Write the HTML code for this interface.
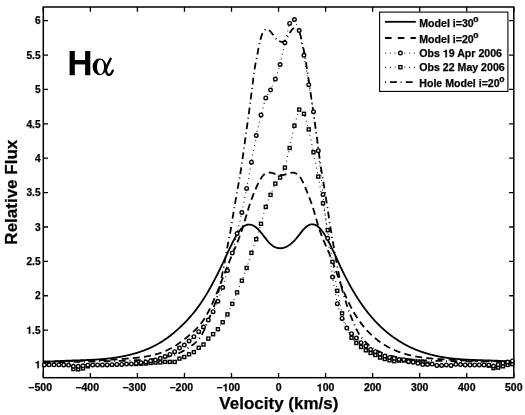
<!DOCTYPE html>
<html><head><meta charset="utf-8"><style>
html,body{margin:0;padding:0;background:#fff;}
svg{display:block;will-change:transform;}
text{font-family:"Liberation Sans",sans-serif;font-weight:bold;fill:#000;stroke:#000;stroke-width:0.25px;}
.tk{font-size:10.5px;}
.tky{font-size:10.2px;}
.al{font-size:17px;}
.ha{font-size:34.5px;}
.al2{font-family:"Liberation Serif",serif;font-weight:normal;font-size:37px;}
.lg{font-size:10.6px;}
.sup{font-size:8.6px;}
.one{fill:transparent;stroke:none;}
</style></head><body>
<svg width="525" height="415" viewBox="0 0 525 415">
<rect width="525" height="415" fill="#fff"/>
<clipPath id="cp"><rect x="43.3" y="7.0" width="470.49999999999994" height="370.7"/></clipPath><g clip-path="url(#cp)"><path d="M43.30,362.31 L43.69,362.26 L44.08,362.22 L44.48,362.18 L44.87,362.14 L45.26,362.10 L45.65,362.06 L46.05,362.02 L46.44,361.98 L46.83,361.94 L47.22,361.91 L47.62,361.87 L48.01,361.83 L48.40,361.80 L48.79,361.76 L49.19,361.73 L49.58,361.70 L49.97,361.66 L50.36,361.63 L50.76,361.60 L51.15,361.57 L51.54,361.54 L51.93,361.51 L52.33,361.48 L52.72,361.45 L53.11,361.42 L53.50,361.39 L53.90,361.37 L54.29,361.34 L54.68,361.31 L55.07,361.29 L55.46,361.26 L55.86,361.24 L56.25,361.21 L56.64,361.19 L57.03,361.17 L57.43,361.14 L57.82,361.12 L58.21,361.10 L58.60,361.08 L59.00,361.06 L59.39,361.04 L59.78,361.02 L60.17,361.00 L60.57,360.98 L60.96,360.96 L61.35,360.94 L61.74,360.92 L62.14,360.90 L62.53,360.88 L62.92,360.86 L63.31,360.85 L63.71,360.83 L64.10,360.81 L64.49,360.80 L64.88,360.78 L65.27,360.76 L65.67,360.75 L66.06,360.73 L66.45,360.72 L66.84,360.70 L67.24,360.69 L67.63,360.67 L68.02,360.66 L68.41,360.64 L68.81,360.63 L69.20,360.62 L69.59,360.60 L69.98,360.59 L70.38,360.57 L70.77,360.56 L71.16,360.55 L71.55,360.53 L71.95,360.52 L72.34,360.51 L72.73,360.50 L73.12,360.48 L73.52,360.47 L73.91,360.46 L74.30,360.44 L74.69,360.43 L75.09,360.42 L75.48,360.41 L75.87,360.39 L76.26,360.38 L76.65,360.37 L77.05,360.36 L77.44,360.34 L77.83,360.33 L78.22,360.32 L78.62,360.31 L79.01,360.29 L79.40,360.28 L79.79,360.27 L80.19,360.25 L80.58,360.24 L80.97,360.23 L81.36,360.21 L81.76,360.20 L82.15,360.19 L82.54,360.17 L82.93,360.16 L83.33,360.14 L83.72,360.13 L84.11,360.12 L84.50,360.10 L84.90,360.09 L85.29,360.07 L85.68,360.06 L86.07,360.04 L86.47,360.03 L86.86,360.01 L87.25,359.99 L87.64,359.98 L88.03,359.96 L88.43,359.94 L88.82,359.93 L89.21,359.91 L89.60,359.89 L90.00,359.87 L90.39,359.85 L90.78,359.84 L91.17,359.82 L91.57,359.80 L91.96,359.78 L92.35,359.76 L92.74,359.74 L93.14,359.72 L93.53,359.69 L93.92,359.67 L94.31,359.65 L94.71,359.63 L95.10,359.60 L95.49,359.58 L95.88,359.56 L96.28,359.53 L96.67,359.51 L97.06,359.48 L97.45,359.46 L97.85,359.43 L98.24,359.40 L98.63,359.38 L99.02,359.35 L99.41,359.32 L99.81,359.29 L100.20,359.26 L100.59,359.23 L100.98,359.20 L101.38,359.17 L101.77,359.14 L102.16,359.11 L102.55,359.07 L102.95,359.04 L103.34,359.01 L103.73,358.97 L104.12,358.94 L104.52,358.90 L104.91,358.86 L105.30,358.83 L105.69,358.79 L106.09,358.75 L106.48,358.71 L106.87,358.67 L107.26,358.63 L107.66,358.59 L108.05,358.55 L108.44,358.50 L108.83,358.46 L109.22,358.42 L109.62,358.37 L110.01,358.32 L110.40,358.28 L110.79,358.23 L111.19,358.18 L111.58,358.13 L111.97,358.08 L112.36,358.03 L112.76,357.98 L113.15,357.93 L113.54,357.88 L113.93,357.82 L114.33,357.77 L114.72,357.71 L115.11,357.65 L115.50,357.60 L115.90,357.54 L116.29,357.48 L116.68,357.42 L117.07,357.36 L117.47,357.29 L117.86,357.23 L118.25,357.17 L118.64,357.10 L119.04,357.04 L119.43,356.97 L119.82,356.90 L120.21,356.83 L120.60,356.76 L121.00,356.69 L121.39,356.62 L121.78,356.54 L122.17,356.47 L122.57,356.39 L122.96,356.32 L123.35,356.24 L123.74,356.16 L124.14,356.08 L124.53,356.00 L124.92,355.92 L125.31,355.84 L125.71,355.75 L126.10,355.67 L126.49,355.58 L126.88,355.49 L127.28,355.41 L127.67,355.32 L128.06,355.22 L128.45,355.13 L128.85,355.04 L129.24,354.94 L129.63,354.85 L130.02,354.75 L130.42,354.65 L130.81,354.55 L131.20,354.45 L131.59,354.35 L131.98,354.25 L132.38,354.14 L132.77,354.04 L133.16,353.93 L133.55,353.82 L133.95,353.71 L134.34,353.60 L134.73,353.49 L135.12,353.37 L135.52,353.26 L135.91,353.14 L136.30,353.02 L136.69,352.90 L137.09,352.78 L137.48,352.66 L137.87,352.54 L138.26,352.41 L138.66,352.29 L139.05,352.16 L139.44,352.03 L139.83,351.90 L140.23,351.77 L140.62,351.63 L141.01,351.50 L141.40,351.36 L141.79,351.22 L142.19,351.08 L142.58,350.94 L142.97,350.80 L143.36,350.65 L143.76,350.51 L144.15,350.36 L144.54,350.21 L144.93,350.06 L145.33,349.91 L145.72,349.75 L146.11,349.59 L146.50,349.44 L146.90,349.28 L147.29,349.11 L147.68,348.95 L148.07,348.78 L148.47,348.62 L148.86,348.45 L149.25,348.27 L149.64,348.10 L150.04,347.93 L150.43,347.75 L150.82,347.57 L151.21,347.39 L151.61,347.20 L152.00,347.02 L152.39,346.83 L152.78,346.64 L153.17,346.45 L153.57,346.25 L153.96,346.06 L154.35,345.86 L154.74,345.66 L155.14,345.45 L155.53,345.25 L155.92,345.04 L156.31,344.83 L156.71,344.62 L157.10,344.40 L157.49,344.19 L157.88,343.97 L158.28,343.75 L158.67,343.52 L159.06,343.29 L159.45,343.07 L159.85,342.83 L160.24,342.60 L160.63,342.36 L161.02,342.12 L161.42,341.88 L161.81,341.64 L162.20,341.39 L162.59,341.14 L162.99,340.89 L163.38,340.63 L163.77,340.37 L164.16,340.11 L164.55,339.85 L164.95,339.58 L165.34,339.31 L165.73,339.04 L166.12,338.76 L166.52,338.49 L166.91,338.21 L167.30,337.92 L167.69,337.64 L168.09,337.35 L168.48,337.06 L168.87,336.76 L169.26,336.46 L169.66,336.16 L170.05,335.86 L170.44,335.56 L170.83,335.25 L171.23,334.94 L171.62,334.62 L172.01,334.31 L172.40,333.99 L172.80,333.67 L173.19,333.34 L173.58,333.02 L173.97,332.69 L174.37,332.36 L174.76,332.02 L175.15,331.68 L175.54,331.35 L175.93,331.00 L176.33,330.66 L176.72,330.31 L177.11,329.97 L177.50,329.61 L177.90,329.26 L178.29,328.91 L178.68,328.55 L179.07,328.19 L179.47,327.82 L179.86,327.46 L180.25,327.09 L180.64,326.72 L181.04,326.35 L181.43,325.98 L181.82,325.60 L182.21,325.22 L182.61,324.84 L183.00,324.46 L183.39,324.07 L183.78,323.68 L184.18,323.28 L184.57,322.89 L184.96,322.49 L185.35,322.09 L185.74,321.68 L186.14,321.27 L186.53,320.86 L186.92,320.45 L187.31,320.03 L187.71,319.61 L188.10,319.18 L188.49,318.75 L188.88,318.32 L189.28,317.89 L189.67,317.45 L190.06,317.00 L190.45,316.56 L190.85,316.10 L191.24,315.65 L191.63,315.19 L192.02,314.73 L192.42,314.26 L192.81,313.79 L193.20,313.31 L193.59,312.83 L193.99,312.35 L194.38,311.86 L194.77,311.37 L195.16,310.87 L195.56,310.37 L195.95,309.86 L196.34,309.35 L196.73,308.83 L197.12,308.31 L197.52,307.78 L197.91,307.25 L198.30,306.71 L198.69,306.17 L199.09,305.62 L199.48,305.07 L199.87,304.51 L200.26,303.95 L200.66,303.38 L201.05,302.81 L201.44,302.23 L201.83,301.65 L202.23,301.05 L202.62,300.46 L203.01,299.86 L203.40,299.25 L203.80,298.64 L204.19,298.02 L204.58,297.39 L204.97,296.76 L205.37,296.13 L205.76,295.49 L206.15,294.84 L206.54,294.19 L206.94,293.53 L207.33,292.87 L207.72,292.21 L208.11,291.54 L208.50,290.86 L208.90,290.18 L209.29,289.49 L209.68,288.80 L210.07,288.10 L210.47,287.40 L210.86,286.70 L211.25,285.99 L211.64,285.27 L212.04,284.55 L212.43,283.83 L212.82,283.10 L213.21,282.36 L213.61,281.63 L214.00,280.89 L214.39,280.14 L214.78,279.39 L215.18,278.63 L215.57,277.87 L215.96,277.11 L216.35,276.34 L216.75,275.57 L217.14,274.80 L217.53,274.02 L217.92,273.23 L218.32,272.45 L218.71,271.66 L219.10,270.86 L219.49,270.06 L219.88,269.26 L220.28,268.46 L220.67,267.65 L221.06,266.83 L221.45,266.02 L221.85,265.20 L222.24,264.38 L222.63,263.55 L223.02,262.72 L223.42,261.89 L223.81,261.05 L224.20,260.21 L224.59,259.37 L224.99,258.53 L225.38,257.68 L225.77,256.83 L226.16,255.98 L226.56,255.13 L226.95,254.28 L227.34,253.43 L227.73,252.59 L228.13,251.74 L228.52,250.90 L228.91,250.06 L229.30,249.23 L229.69,248.39 L230.09,247.57 L230.48,246.75 L230.87,245.93 L231.26,245.13 L231.66,244.33 L232.05,243.54 L232.44,242.75 L232.83,241.98 L233.23,241.21 L233.62,240.46 L234.01,239.72 L234.40,238.98 L234.80,238.26 L235.19,237.56 L235.58,236.86 L235.97,236.18 L236.37,235.52 L236.76,234.87 L237.15,234.23 L237.54,233.61 L237.94,233.01 L238.33,232.42 L238.72,231.86 L239.11,231.31 L239.51,230.78 L239.90,230.27 L240.29,229.78 L240.68,229.31 L241.07,228.87 L241.47,228.44 L241.86,228.04 L242.25,227.66 L242.64,227.30 L243.04,226.97 L243.43,226.66 L243.82,226.37 L244.21,226.10 L244.61,225.86 L245.00,225.64 L245.39,225.44 L245.78,225.26 L246.18,225.10 L246.57,224.96 L246.96,224.85 L247.35,224.75 L247.75,224.68 L248.14,224.62 L248.53,224.58 L248.92,224.57 L249.32,224.57 L249.71,224.59 L250.10,224.64 L250.49,224.70 L250.89,224.77 L251.28,224.87 L251.67,224.99 L252.06,225.12 L252.45,225.27 L252.85,225.44 L253.24,225.62 L253.63,225.82 L254.02,226.04 L254.42,226.28 L254.81,226.53 L255.20,226.80 L255.59,227.08 L255.99,227.38 L256.38,227.70 L256.77,228.03 L257.16,228.37 L257.56,228.73 L257.95,229.11 L258.34,229.50 L258.73,229.90 L259.13,230.32 L259.52,230.75 L259.91,231.19 L260.30,231.65 L260.70,232.12 L261.09,232.59 L261.48,233.08 L261.87,233.57 L262.26,234.07 L262.66,234.58 L263.05,235.09 L263.44,235.60 L263.83,236.11 L264.23,236.63 L264.62,237.14 L265.01,237.65 L265.40,238.16 L265.80,238.67 L266.19,239.17 L266.58,239.66 L266.97,240.15 L267.37,240.63 L267.76,241.10 L268.15,241.56 L268.54,242.00 L268.94,242.43 L269.33,242.85 L269.72,243.26 L270.11,243.64 L270.51,244.02 L270.90,244.37 L271.29,244.71 L271.68,245.03 L272.08,245.33 L272.47,245.62 L272.86,245.89 L273.25,246.15 L273.64,246.39 L274.04,246.62 L274.43,246.83 L274.82,247.02 L275.21,247.20 L275.61,247.37 L276.00,247.52 L276.39,247.66 L276.78,247.78 L277.18,247.89 L277.57,247.98 L277.96,248.06 L278.35,248.13 L278.75,248.18 L279.14,248.22 L279.53,248.25 L279.92,248.26 L280.32,248.27 L280.71,248.25 L281.10,248.23 L281.49,248.19 L281.89,248.15 L282.28,248.09 L282.67,248.01 L283.06,247.93 L283.46,247.83 L283.85,247.72 L284.24,247.60 L284.63,247.47 L285.02,247.33 L285.42,247.17 L285.81,247.00 L286.20,246.82 L286.59,246.63 L286.99,246.43 L287.38,246.22 L287.77,245.99 L288.16,245.76 L288.56,245.51 L288.95,245.25 L289.34,244.98 L289.73,244.70 L290.13,244.41 L290.52,244.11 L290.91,243.80 L291.30,243.47 L291.70,243.14 L292.09,242.79 L292.48,242.44 L292.87,242.07 L293.27,241.70 L293.66,241.31 L294.05,240.92 L294.44,240.51 L294.84,240.09 L295.23,239.67 L295.62,239.23 L296.01,238.78 L296.40,238.33 L296.80,237.86 L297.19,237.39 L297.58,236.90 L297.97,236.41 L298.37,235.92 L298.76,235.42 L299.15,234.91 L299.54,234.41 L299.94,233.90 L300.33,233.39 L300.72,232.89 L301.11,232.39 L301.51,231.90 L301.90,231.41 L302.29,230.92 L302.68,230.45 L303.08,229.99 L303.47,229.53 L303.86,229.09 L304.25,228.67 L304.65,228.26 L305.04,227.86 L305.43,227.49 L305.82,227.13 L306.21,226.79 L306.61,226.48 L307.00,226.18 L307.39,225.91 L307.78,225.66 L308.18,225.43 L308.57,225.22 L308.96,225.04 L309.35,224.87 L309.75,224.73 L310.14,224.60 L310.53,224.50 L310.92,224.42 L311.32,224.37 L311.71,224.33 L312.10,224.31 L312.49,224.32 L312.89,224.35 L313.28,224.39 L313.67,224.46 L314.06,224.55 L314.46,224.67 L314.85,224.80 L315.24,224.95 L315.63,225.13 L316.03,225.32 L316.42,225.54 L316.81,225.78 L317.20,226.03 L317.59,226.31 L317.99,226.61 L318.38,226.93 L318.77,227.27 L319.16,227.64 L319.56,228.02 L319.95,228.42 L320.34,228.85 L320.73,229.29 L321.13,229.76 L321.52,230.24 L321.91,230.74 L322.30,231.26 L322.70,231.79 L323.09,232.35 L323.48,232.92 L323.87,233.50 L324.27,234.11 L324.66,234.72 L325.05,235.36 L325.44,236.00 L325.84,236.66 L326.23,237.33 L326.62,238.02 L327.01,238.72 L327.41,239.43 L327.80,240.15 L328.19,240.88 L328.58,241.63 L328.97,242.38 L329.37,243.14 L329.76,243.91 L330.15,244.69 L330.54,245.48 L330.94,246.28 L331.33,247.08 L331.72,247.89 L332.11,248.71 L332.51,249.53 L332.90,250.36 L333.29,251.19 L333.68,252.02 L334.08,252.86 L334.47,253.71 L334.86,254.55 L335.25,255.40 L335.65,256.25 L336.04,257.10 L336.43,257.96 L336.82,258.81 L337.22,259.66 L337.61,260.52 L338.00,261.37 L338.39,262.22 L338.78,263.07 L339.18,263.92 L339.57,264.76 L339.96,265.60 L340.35,266.44 L340.75,267.27 L341.14,268.10 L341.53,268.92 L341.92,269.74 L342.32,270.55 L342.71,271.36 L343.10,272.16 L343.49,272.96 L343.89,273.75 L344.28,274.54 L344.67,275.32 L345.06,276.09 L345.46,276.86 L345.85,277.63 L346.24,278.39 L346.63,279.14 L347.03,279.89 L347.42,280.64 L347.81,281.38 L348.20,282.11 L348.60,282.84 L348.99,283.57 L349.38,284.28 L349.77,285.00 L350.16,285.71 L350.56,286.41 L350.95,287.11 L351.34,287.80 L351.73,288.49 L352.13,289.18 L352.52,289.85 L352.91,290.53 L353.30,291.20 L353.70,291.86 L354.09,292.52 L354.48,293.17 L354.87,293.82 L355.27,294.47 L355.66,295.11 L356.05,295.74 L356.44,296.37 L356.84,296.99 L357.23,297.61 L357.62,298.23 L358.01,298.84 L358.41,299.44 L358.80,300.04 L359.19,300.64 L359.58,301.23 L359.98,301.81 L360.37,302.40 L360.76,302.97 L361.15,303.54 L361.54,304.11 L361.94,304.67 L362.33,305.23 L362.72,305.78 L363.11,306.33 L363.51,306.88 L363.90,307.42 L364.29,307.95 L364.68,308.48 L365.08,309.01 L365.47,309.53 L365.86,310.05 L366.25,310.56 L366.65,311.07 L367.04,311.58 L367.43,312.08 L367.82,312.57 L368.22,313.07 L368.61,313.56 L369.00,314.04 L369.39,314.52 L369.79,315.00 L370.18,315.47 L370.57,315.93 L370.96,316.40 L371.36,316.86 L371.75,317.31 L372.14,317.77 L372.53,318.22 L372.92,318.66 L373.32,319.10 L373.71,319.54 L374.10,319.97 L374.49,320.40 L374.89,320.83 L375.28,321.25 L375.67,321.67 L376.06,322.08 L376.46,322.49 L376.85,322.90 L377.24,323.30 L377.63,323.70 L378.03,324.10 L378.42,324.49 L378.81,324.88 L379.20,325.27 L379.60,325.65 L379.99,326.03 L380.38,326.41 L380.77,326.79 L381.17,327.16 L381.56,327.52 L381.95,327.89 L382.34,328.25 L382.73,328.60 L383.13,328.96 L383.52,329.31 L383.91,329.66 L384.30,330.00 L384.70,330.35 L385.09,330.69 L385.48,331.02 L385.87,331.36 L386.27,331.69 L386.66,332.01 L387.05,332.34 L387.44,332.66 L387.84,332.98 L388.23,333.30 L388.62,333.61 L389.01,333.92 L389.41,334.23 L389.80,334.54 L390.19,334.84 L390.58,335.14 L390.98,335.44 L391.37,335.74 L391.76,336.03 L392.15,336.32 L392.55,336.61 L392.94,336.89 L393.33,337.18 L393.72,337.46 L394.11,337.73 L394.51,338.01 L394.90,338.28 L395.29,338.55 L395.68,338.82 L396.08,339.09 L396.47,339.35 L396.86,339.61 L397.25,339.87 L397.65,340.13 L398.04,340.38 L398.43,340.63 L398.82,340.88 L399.22,341.13 L399.61,341.37 L400.00,341.61 L400.39,341.86 L400.79,342.09 L401.18,342.33 L401.57,342.56 L401.96,342.79 L402.36,343.02 L402.75,343.25 L403.14,343.47 L403.53,343.70 L403.93,343.92 L404.32,344.13 L404.71,344.35 L405.10,344.56 L405.49,344.78 L405.89,344.99 L406.28,345.19 L406.67,345.40 L407.06,345.60 L407.46,345.80 L407.85,346.00 L408.24,346.20 L408.63,346.40 L409.03,346.59 L409.42,346.78 L409.81,346.97 L410.20,347.16 L410.60,347.34 L410.99,347.53 L411.38,347.71 L411.77,347.89 L412.17,348.07 L412.56,348.24 L412.95,348.42 L413.34,348.59 L413.74,348.76 L414.13,348.93 L414.52,349.10 L414.91,349.26 L415.31,349.42 L415.70,349.59 L416.09,349.75 L416.48,349.90 L416.87,350.06 L417.27,350.22 L417.66,350.37 L418.05,350.52 L418.44,350.67 L418.84,350.82 L419.23,350.96 L419.62,351.11 L420.01,351.25 L420.41,351.39 L420.80,351.53 L421.19,351.67 L421.58,351.81 L421.98,351.94 L422.37,352.08 L422.76,352.21 L423.15,352.34 L423.55,352.47 L423.94,352.60 L424.33,352.72 L424.72,352.85 L425.12,352.97 L425.51,353.09 L425.90,353.21 L426.29,353.33 L426.68,353.45 L427.08,353.57 L427.47,353.68 L427.86,353.79 L428.25,353.90 L428.65,354.02 L429.04,354.12 L429.43,354.23 L429.82,354.34 L430.22,354.44 L430.61,354.55 L431.00,354.65 L431.39,354.75 L431.79,354.85 L432.18,354.95 L432.57,355.04 L432.96,355.14 L433.36,355.23 L433.75,355.33 L434.14,355.42 L434.53,355.51 L434.93,355.60 L435.32,355.69 L435.71,355.78 L436.10,355.86 L436.50,355.95 L436.89,356.03 L437.28,356.11 L437.67,356.19 L438.06,356.27 L438.46,356.35 L438.85,356.43 L439.24,356.51 L439.63,356.58 L440.03,356.65 L440.42,356.73 L440.81,356.80 L441.20,356.87 L441.60,356.94 L441.99,357.01 L442.38,357.08 L442.77,357.14 L443.17,357.21 L443.56,357.28 L443.95,357.34 L444.34,357.40 L444.74,357.46 L445.13,357.52 L445.52,357.58 L445.91,357.64 L446.31,357.70 L446.70,357.76 L447.09,357.81 L447.48,357.87 L447.88,357.92 L448.27,357.98 L448.66,358.03 L449.05,358.08 L449.44,358.13 L449.84,358.18 L450.23,358.23 L450.62,358.28 L451.01,358.32 L451.41,358.37 L451.80,358.42 L452.19,358.46 L452.58,358.51 L452.98,358.55 L453.37,358.59 L453.76,358.63 L454.15,358.67 L454.55,358.71 L454.94,358.75 L455.33,358.79 L455.72,358.83 L456.12,358.87 L456.51,358.90 L456.90,358.94 L457.29,358.97 L457.69,359.01 L458.08,359.04 L458.47,359.08 L458.86,359.11 L459.25,359.14 L459.65,359.17 L460.04,359.20 L460.43,359.23 L460.82,359.26 L461.22,359.29 L461.61,359.32 L462.00,359.35 L462.39,359.37 L462.79,359.40 L463.18,359.43 L463.57,359.45 L463.96,359.48 L464.36,359.50 L464.75,359.53 L465.14,359.55 L465.53,359.57 L465.93,359.60 L466.32,359.62 L466.71,359.64 L467.10,359.66 L467.50,359.68 L467.89,359.70 L468.28,359.72 L468.67,359.74 L469.07,359.76 L469.46,359.78 L469.85,359.80 L470.24,359.82 L470.63,359.83 L471.03,359.85 L471.42,359.87 L471.81,359.89 L472.20,359.90 L472.60,359.92 L472.99,359.93 L473.38,359.95 L473.77,359.97 L474.17,359.98 L474.56,360.00 L474.95,360.01 L475.34,360.02 L475.74,360.04 L476.13,360.05 L476.52,360.07 L476.91,360.08 L477.31,360.09 L477.70,360.11 L478.09,360.12 L478.48,360.13 L478.88,360.14 L479.27,360.16 L479.66,360.17 L480.05,360.18 L480.45,360.19 L480.84,360.21 L481.23,360.22 L481.62,360.23 L482.01,360.24 L482.41,360.25 L482.80,360.27 L483.19,360.28 L483.58,360.29 L483.98,360.30 L484.37,360.31 L484.76,360.32 L485.15,360.34 L485.55,360.35 L485.94,360.36 L486.33,360.37 L486.72,360.38 L487.12,360.39 L487.51,360.41 L487.90,360.42 L488.29,360.43 L488.69,360.44 L489.08,360.45 L489.47,360.47 L489.86,360.48 L490.26,360.49 L490.65,360.50 L491.04,360.52 L491.43,360.53 L491.83,360.54 L492.22,360.56 L492.61,360.57 L493.00,360.58 L493.39,360.60 L493.79,360.61 L494.18,360.63 L494.57,360.64 L494.96,360.66 L495.36,360.67 L495.75,360.69 L496.14,360.70 L496.53,360.72 L496.93,360.74 L497.32,360.75 L497.71,360.77 L498.10,360.79 L498.50,360.80 L498.89,360.82 L499.28,360.84 L499.67,360.86 L500.07,360.88 L500.46,360.90 L500.85,360.92 L501.24,360.94 L501.64,360.96 L502.03,360.98 L502.42,361.00 L502.81,361.02 L503.20,361.05 L503.60,361.07 L503.99,361.09 L504.38,361.12 L504.77,361.14 L505.17,361.17 L505.56,361.19 L505.95,361.22 L506.34,361.24 L506.74,361.27 L507.13,361.30 L507.52,361.33 L507.91,361.35 L508.31,361.38 L508.70,361.41 L509.09,361.44 L509.48,361.48 L509.88,361.51 L510.27,361.54 L510.66,361.57 L511.05,361.61 L511.45,361.64 L511.84,361.67 L512.23,361.71 L512.62,361.75 L513.02,361.78 L513.41,361.82 L513.80,361.86" fill="none" stroke="#000" stroke-width="1.8" /><path d="M43.30,361.38 L43.69,361.38 L44.08,361.38 L44.48,361.38 L44.87,361.38 L45.26,361.38 L45.65,361.38 L46.05,361.37 L46.44,361.37 L46.83,361.37 L47.22,361.37 L47.62,361.37 L48.01,361.37 L48.40,361.37 L48.79,361.37 L49.19,361.37 L49.58,361.36 L49.97,361.36 L50.36,361.36 L50.76,361.36 L51.15,361.36 L51.54,361.36 L51.93,361.35 L52.33,361.35 L52.72,361.35 L53.11,361.35 L53.50,361.35 L53.90,361.34 L54.29,361.34 L54.68,361.34 L55.07,361.34 L55.46,361.33 L55.86,361.33 L56.25,361.33 L56.64,361.32 L57.03,361.32 L57.43,361.32 L57.82,361.31 L58.21,361.31 L58.60,361.31 L59.00,361.30 L59.39,361.30 L59.78,361.30 L60.17,361.29 L60.57,361.29 L60.96,361.28 L61.35,361.28 L61.74,361.28 L62.14,361.27 L62.53,361.27 L62.92,361.26 L63.31,361.26 L63.71,361.25 L64.10,361.25 L64.49,361.24 L64.88,361.24 L65.27,361.23 L65.67,361.23 L66.06,361.22 L66.45,361.22 L66.84,361.21 L67.24,361.21 L67.63,361.20 L68.02,361.19 L68.41,361.19 L68.81,361.18 L69.20,361.18 L69.59,361.17 L69.98,361.16 L70.38,361.16 L70.77,361.15 L71.16,361.14 L71.55,361.14 L71.95,361.13 L72.34,361.12 L72.73,361.11 L73.12,361.11 L73.52,361.10 L73.91,361.09 L74.30,361.08 L74.69,361.07 L75.09,361.07 L75.48,361.06 L75.87,361.05 L76.26,361.04 L76.65,361.03 L77.05,361.02 L77.44,361.02 L77.83,361.01 L78.22,361.00 L78.62,360.99 L79.01,360.98 L79.40,360.97 L79.79,360.96 L80.19,360.95 L80.58,360.94 L80.97,360.93 L81.36,360.92 L81.76,360.91 L82.15,360.90 L82.54,360.89 L82.93,360.88 L83.33,360.87 L83.72,360.85 L84.11,360.84 L84.50,360.83 L84.90,360.82 L85.29,360.81 L85.68,360.80 L86.07,360.79 L86.47,360.77 L86.86,360.76 L87.25,360.75 L87.64,360.74 L88.03,360.72 L88.43,360.71 L88.82,360.70 L89.21,360.68 L89.60,360.67 L90.00,360.66 L90.39,360.64 L90.78,360.63 L91.17,360.62 L91.57,360.60 L91.96,360.59 L92.35,360.57 L92.74,360.56 L93.14,360.55 L93.53,360.53 L93.92,360.52 L94.31,360.50 L94.71,360.48 L95.10,360.47 L95.49,360.45 L95.88,360.44 L96.28,360.42 L96.67,360.41 L97.06,360.39 L97.45,360.37 L97.85,360.36 L98.24,360.34 L98.63,360.32 L99.02,360.31 L99.41,360.29 L99.81,360.27 L100.20,360.25 L100.59,360.23 L100.98,360.22 L101.38,360.20 L101.77,360.18 L102.16,360.16 L102.55,360.14 L102.95,360.12 L103.34,360.11 L103.73,360.09 L104.12,360.07 L104.52,360.05 L104.91,360.03 L105.30,360.01 L105.69,359.99 L106.09,359.97 L106.48,359.95 L106.87,359.93 L107.26,359.90 L107.66,359.88 L108.05,359.86 L108.44,359.84 L108.83,359.82 L109.22,359.80 L109.62,359.78 L110.01,359.75 L110.40,359.73 L110.79,359.71 L111.19,359.69 L111.58,359.66 L111.97,359.64 L112.36,359.62 L112.76,359.59 L113.15,359.57 L113.54,359.54 L113.93,359.52 L114.33,359.50 L114.72,359.47 L115.11,359.45 L115.50,359.42 L115.90,359.40 L116.29,359.37 L116.68,359.35 L117.07,359.32 L117.47,359.29 L117.86,359.27 L118.25,359.24 L118.64,359.21 L119.04,359.19 L119.43,359.16 L119.82,359.13 L120.21,359.11 L120.60,359.08 L121.00,359.05 L121.39,359.02 L121.78,358.99 L122.17,358.97 L122.57,358.94 L122.96,358.91 L123.35,358.88 L123.74,358.85 L124.14,358.82 L124.53,358.79 L124.92,358.76 L125.31,358.73 L125.71,358.70 L126.10,358.67 L126.49,358.64 L126.88,358.61 L127.28,358.58 L127.67,358.54 L128.06,358.51 L128.45,358.48 L128.85,358.45 L129.24,358.42 L129.63,358.38 L130.02,358.35 L130.42,358.32 L130.81,358.28 L131.20,358.25 L131.59,358.22 L131.98,358.18 L132.38,358.15 L132.77,358.11 L133.16,358.08 L133.55,358.04 L133.95,358.01 L134.34,357.97 L134.73,357.93 L135.12,357.89 L135.52,357.85 L135.91,357.82 L136.30,357.78 L136.69,357.74 L137.09,357.69 L137.48,357.65 L137.87,357.61 L138.26,357.57 L138.66,357.52 L139.05,357.48 L139.44,357.43 L139.83,357.39 L140.23,357.34 L140.62,357.29 L141.01,357.24 L141.40,357.19 L141.79,357.14 L142.19,357.08 L142.58,357.03 L142.97,356.98 L143.36,356.92 L143.76,356.86 L144.15,356.80 L144.54,356.74 L144.93,356.68 L145.33,356.62 L145.72,356.56 L146.11,356.49 L146.50,356.43 L146.90,356.36 L147.29,356.29 L147.68,356.22 L148.07,356.15 L148.47,356.07 L148.86,356.00 L149.25,355.92 L149.64,355.84 L150.04,355.76 L150.43,355.68 L150.82,355.60 L151.21,355.51 L151.61,355.42 L152.00,355.33 L152.39,355.24 L152.78,355.15 L153.17,355.06 L153.57,354.96 L153.96,354.86 L154.35,354.76 L154.74,354.66 L155.14,354.56 L155.53,354.45 L155.92,354.34 L156.31,354.23 L156.71,354.12 L157.10,354.00 L157.49,353.89 L157.88,353.77 L158.28,353.65 L158.67,353.52 L159.06,353.40 L159.45,353.27 L159.85,353.14 L160.24,353.01 L160.63,352.87 L161.02,352.73 L161.42,352.59 L161.81,352.45 L162.20,352.30 L162.59,352.16 L162.99,352.01 L163.38,351.85 L163.77,351.70 L164.16,351.54 L164.55,351.38 L164.95,351.21 L165.34,351.05 L165.73,350.88 L166.12,350.71 L166.52,350.53 L166.91,350.35 L167.30,350.17 L167.69,349.99 L168.09,349.80 L168.48,349.61 L168.87,349.42 L169.26,349.22 L169.66,349.02 L170.05,348.82 L170.44,348.62 L170.83,348.41 L171.23,348.20 L171.62,347.98 L172.01,347.76 L172.40,347.54 L172.80,347.32 L173.19,347.09 L173.58,346.86 L173.97,346.62 L174.37,346.39 L174.76,346.15 L175.15,345.90 L175.54,345.65 L175.93,345.40 L176.33,345.15 L176.72,344.89 L177.11,344.63 L177.50,344.36 L177.90,344.09 L178.29,343.82 L178.68,343.55 L179.07,343.27 L179.47,342.99 L179.86,342.71 L180.25,342.43 L180.64,342.14 L181.04,341.85 L181.43,341.56 L181.82,341.27 L182.21,340.97 L182.61,340.67 L183.00,340.37 L183.39,340.06 L183.78,339.76 L184.18,339.45 L184.57,339.14 L184.96,338.83 L185.35,338.51 L185.74,338.20 L186.14,337.88 L186.53,337.56 L186.92,337.24 L187.31,336.92 L187.71,336.59 L188.10,336.27 L188.49,335.94 L188.88,335.61 L189.28,335.28 L189.67,334.95 L190.06,334.62 L190.45,334.28 L190.85,333.94 L191.24,333.61 L191.63,333.27 L192.02,332.92 L192.42,332.57 L192.81,332.22 L193.20,331.87 L193.59,331.51 L193.99,331.14 L194.38,330.78 L194.77,330.40 L195.16,330.02 L195.56,329.64 L195.95,329.24 L196.34,328.85 L196.73,328.44 L197.12,328.03 L197.52,327.61 L197.91,327.18 L198.30,326.74 L198.69,326.30 L199.09,325.85 L199.48,325.38 L199.87,324.91 L200.26,324.43 L200.66,323.93 L201.05,323.43 L201.44,322.92 L201.83,322.39 L202.23,321.86 L202.62,321.31 L203.01,320.75 L203.40,320.17 L203.80,319.59 L204.19,318.99 L204.58,318.37 L204.97,317.75 L205.37,317.10 L205.76,316.45 L206.15,315.78 L206.54,315.09 L206.94,314.39 L207.33,313.68 L207.72,312.95 L208.11,312.21 L208.50,311.45 L208.90,310.69 L209.29,309.91 L209.68,309.11 L210.07,308.31 L210.47,307.49 L210.86,306.67 L211.25,305.83 L211.64,304.98 L212.04,304.12 L212.43,303.26 L212.82,302.38 L213.21,301.49 L213.61,300.60 L214.00,299.69 L214.39,298.78 L214.78,297.86 L215.18,296.94 L215.57,296.00 L215.96,295.06 L216.35,294.11 L216.75,293.16 L217.14,292.20 L217.53,291.24 L217.92,290.27 L218.32,289.30 L218.71,288.32 L219.10,287.34 L219.49,286.35 L219.88,285.37 L220.28,284.37 L220.67,283.38 L221.06,282.39 L221.45,281.39 L221.85,280.39 L222.24,279.39 L222.63,278.39 L223.02,277.39 L223.42,276.38 L223.81,275.38 L224.20,274.38 L224.59,273.38 L224.99,272.38 L225.38,271.38 L225.77,270.39 L226.16,269.40 L226.56,268.41 L226.95,267.42 L227.34,266.43 L227.73,265.45 L228.13,264.48 L228.52,263.50 L228.91,262.54 L229.30,261.57 L229.69,260.62 L230.09,259.67 L230.48,258.72 L230.87,257.78 L231.26,256.85 L231.66,255.92 L232.05,254.99 L232.44,254.07 L232.83,253.14 L233.23,252.22 L233.62,251.30 L234.01,250.37 L234.40,249.45 L234.80,248.52 L235.19,247.58 L235.58,246.64 L235.97,245.69 L236.37,244.74 L236.76,243.78 L237.15,242.81 L237.54,241.82 L237.94,240.83 L238.33,239.83 L238.72,238.81 L239.11,237.78 L239.51,236.73 L239.90,235.67 L240.29,234.59 L240.68,233.50 L241.07,232.38 L241.47,231.24 L241.86,230.09 L242.25,228.91 L242.64,227.71 L243.04,226.49 L243.43,225.24 L243.82,223.97 L244.21,222.67 L244.61,221.36 L245.00,220.03 L245.39,218.69 L245.78,217.34 L246.18,215.99 L246.57,214.65 L246.96,213.31 L247.35,211.99 L247.75,210.68 L248.14,209.39 L248.53,208.13 L248.92,206.90 L249.32,205.69 L249.71,204.51 L250.10,203.35 L250.49,202.22 L250.89,201.11 L251.28,200.02 L251.67,198.94 L252.06,197.89 L252.45,196.86 L252.85,195.84 L253.24,194.84 L253.63,193.86 L254.02,192.88 L254.42,191.92 L254.81,190.97 L255.20,190.04 L255.59,189.11 L255.99,188.20 L256.38,187.31 L256.77,186.43 L257.16,185.57 L257.56,184.73 L257.95,183.91 L258.34,183.11 L258.73,182.33 L259.13,181.58 L259.52,180.85 L259.91,180.14 L260.30,179.47 L260.70,178.82 L261.09,178.20 L261.48,177.61 L261.87,177.05 L262.26,176.53 L262.66,176.03 L263.05,175.58 L263.44,175.16 L263.83,174.77 L264.23,174.42 L264.62,174.11 L265.01,173.83 L265.40,173.58 L265.80,173.35 L266.19,173.16 L266.58,173.00 L266.97,172.86 L267.37,172.75 L267.76,172.66 L268.15,172.60 L268.54,172.55 L268.94,172.53 L269.33,172.53 L269.72,172.54 L270.11,172.57 L270.51,172.62 L270.90,172.68 L271.29,172.75 L271.68,172.84 L272.08,172.93 L272.47,173.04 L272.86,173.15 L273.25,173.27 L273.64,173.40 L274.04,173.53 L274.43,173.67 L274.82,173.80 L275.21,173.94 L275.61,174.08 L276.00,174.21 L276.39,174.34 L276.78,174.47 L277.18,174.59 L277.57,174.71 L277.96,174.82 L278.35,174.92 L278.75,175.01 L279.14,175.09 L279.53,175.15 L279.92,175.20 L280.32,175.24 L280.71,175.26 L281.10,175.26 L281.49,175.24 L281.89,175.21 L282.28,175.17 L282.67,175.11 L283.06,175.04 L283.46,174.96 L283.85,174.87 L284.24,174.77 L284.63,174.66 L285.02,174.54 L285.42,174.42 L285.81,174.30 L286.20,174.17 L286.59,174.04 L286.99,173.91 L287.38,173.78 L287.77,173.66 L288.16,173.53 L288.56,173.41 L288.95,173.30 L289.34,173.19 L289.73,173.09 L290.13,173.00 L290.52,172.92 L290.91,172.84 L291.30,172.79 L291.70,172.74 L292.09,172.71 L292.48,172.70 L292.87,172.70 L293.27,172.72 L293.66,172.76 L294.05,172.82 L294.44,172.90 L294.84,173.00 L295.23,173.13 L295.62,173.29 L296.01,173.47 L296.40,173.67 L296.80,173.91 L297.19,174.17 L297.58,174.47 L297.97,174.80 L298.37,175.16 L298.76,175.56 L299.15,175.99 L299.54,176.46 L299.94,176.97 L300.33,177.52 L300.72,178.10 L301.11,178.73 L301.51,179.40 L301.90,180.11 L302.29,180.86 L302.68,181.64 L303.08,182.45 L303.47,183.29 L303.86,184.16 L304.25,185.05 L304.65,185.96 L305.04,186.89 L305.43,187.83 L305.82,188.79 L306.21,189.75 L306.61,190.72 L307.00,191.69 L307.39,192.67 L307.78,193.65 L308.18,194.63 L308.57,195.61 L308.96,196.61 L309.35,197.62 L309.75,198.64 L310.14,199.68 L310.53,200.73 L310.92,201.81 L311.32,202.91 L311.71,204.03 L312.10,205.18 L312.49,206.36 L312.89,207.58 L313.28,208.83 L313.67,210.11 L314.06,211.42 L314.46,212.76 L314.85,214.12 L315.24,215.48 L315.63,216.86 L316.03,218.23 L316.42,219.61 L316.81,220.97 L317.20,222.31 L317.59,223.63 L317.99,224.93 L318.38,226.19 L318.77,227.43 L319.16,228.63 L319.56,229.80 L319.95,230.94 L320.34,232.06 L320.73,233.15 L321.13,234.22 L321.52,235.27 L321.91,236.30 L322.30,237.31 L322.70,238.30 L323.09,239.28 L323.48,240.24 L323.87,241.18 L324.27,242.12 L324.66,243.05 L325.05,243.96 L325.44,244.87 L325.84,245.78 L326.23,246.68 L326.62,247.57 L327.01,248.47 L327.41,249.37 L327.80,250.26 L328.19,251.16 L328.58,252.07 L328.97,252.97 L329.37,253.89 L329.76,254.82 L330.15,255.75 L330.54,256.70 L330.94,257.66 L331.33,258.64 L331.72,259.63 L332.11,260.63 L332.51,261.65 L332.90,262.67 L333.29,263.71 L333.68,264.76 L334.08,265.82 L334.47,266.89 L334.86,267.96 L335.25,269.03 L335.65,270.12 L336.04,271.20 L336.43,272.29 L336.82,273.38 L337.22,274.46 L337.61,275.55 L338.00,276.63 L338.39,277.72 L338.78,278.79 L339.18,279.86 L339.57,280.93 L339.96,281.99 L340.35,283.03 L340.75,284.07 L341.14,285.10 L341.53,286.12 L341.92,287.12 L342.32,288.11 L342.71,289.09 L343.10,290.06 L343.49,291.02 L343.89,291.96 L344.28,292.89 L344.67,293.81 L345.06,294.72 L345.46,295.62 L345.85,296.51 L346.24,297.38 L346.63,298.25 L347.03,299.10 L347.42,299.94 L347.81,300.77 L348.20,301.59 L348.60,302.40 L348.99,303.20 L349.38,303.99 L349.77,304.77 L350.16,305.54 L350.56,306.30 L350.95,307.05 L351.34,307.79 L351.73,308.52 L352.13,309.24 L352.52,309.95 L352.91,310.65 L353.30,311.34 L353.70,312.02 L354.09,312.70 L354.48,313.36 L354.87,314.02 L355.27,314.66 L355.66,315.30 L356.05,315.93 L356.44,316.55 L356.84,317.16 L357.23,317.77 L357.62,318.36 L358.01,318.95 L358.41,319.53 L358.80,320.10 L359.19,320.66 L359.58,321.22 L359.98,321.77 L360.37,322.31 L360.76,322.84 L361.15,323.37 L361.54,323.89 L361.94,324.40 L362.33,324.90 L362.72,325.40 L363.11,325.89 L363.51,326.38 L363.90,326.85 L364.29,327.33 L364.68,327.79 L365.08,328.25 L365.47,328.70 L365.86,329.15 L366.25,329.59 L366.65,330.02 L367.04,330.45 L367.43,330.87 L367.82,331.29 L368.22,331.70 L368.61,332.11 L369.00,332.51 L369.39,332.91 L369.79,333.30 L370.18,333.69 L370.57,334.07 L370.96,334.44 L371.36,334.82 L371.75,335.18 L372.14,335.55 L372.53,335.90 L372.92,336.26 L373.32,336.61 L373.71,336.95 L374.10,337.30 L374.49,337.63 L374.89,337.97 L375.28,338.30 L375.67,338.62 L376.06,338.94 L376.46,339.26 L376.85,339.57 L377.24,339.88 L377.63,340.18 L378.03,340.49 L378.42,340.78 L378.81,341.08 L379.20,341.37 L379.60,341.65 L379.99,341.93 L380.38,342.21 L380.77,342.49 L381.17,342.76 L381.56,343.03 L381.95,343.29 L382.34,343.55 L382.73,343.81 L383.13,344.06 L383.52,344.31 L383.91,344.56 L384.30,344.81 L384.70,345.05 L385.09,345.28 L385.48,345.52 L385.87,345.75 L386.27,345.98 L386.66,346.20 L387.05,346.42 L387.44,346.64 L387.84,346.86 L388.23,347.07 L388.62,347.28 L389.01,347.49 L389.41,347.69 L389.80,347.90 L390.19,348.10 L390.58,348.29 L390.98,348.49 L391.37,348.68 L391.76,348.86 L392.15,349.05 L392.55,349.23 L392.94,349.41 L393.33,349.59 L393.72,349.77 L394.11,349.94 L394.51,350.11 L394.90,350.28 L395.29,350.45 L395.68,350.61 L396.08,350.77 L396.47,350.93 L396.86,351.09 L397.25,351.24 L397.65,351.40 L398.04,351.55 L398.43,351.70 L398.82,351.84 L399.22,351.99 L399.61,352.13 L400.00,352.27 L400.39,352.41 L400.79,352.55 L401.18,352.68 L401.57,352.82 L401.96,352.95 L402.36,353.08 L402.75,353.20 L403.14,353.33 L403.53,353.45 L403.93,353.57 L404.32,353.69 L404.71,353.81 L405.10,353.92 L405.49,354.04 L405.89,354.15 L406.28,354.26 L406.67,354.37 L407.06,354.48 L407.46,354.58 L407.85,354.69 L408.24,354.79 L408.63,354.89 L409.03,354.99 L409.42,355.09 L409.81,355.18 L410.20,355.27 L410.60,355.37 L410.99,355.46 L411.38,355.55 L411.77,355.64 L412.17,355.72 L412.56,355.81 L412.95,355.89 L413.34,355.97 L413.74,356.05 L414.13,356.13 L414.52,356.21 L414.91,356.29 L415.31,356.36 L415.70,356.43 L416.09,356.51 L416.48,356.58 L416.87,356.65 L417.27,356.72 L417.66,356.78 L418.05,356.85 L418.44,356.91 L418.84,356.98 L419.23,357.04 L419.62,357.10 L420.01,357.16 L420.41,357.22 L420.80,357.28 L421.19,357.33 L421.58,357.39 L421.98,357.45 L422.37,357.50 L422.76,357.55 L423.15,357.60 L423.55,357.65 L423.94,357.70 L424.33,357.75 L424.72,357.80 L425.12,357.85 L425.51,357.89 L425.90,357.94 L426.29,357.98 L426.68,358.02 L427.08,358.07 L427.47,358.11 L427.86,358.15 L428.25,358.19 L428.65,358.23 L429.04,358.27 L429.43,358.31 L429.82,358.34 L430.22,358.38 L430.61,358.41 L431.00,358.45 L431.39,358.48 L431.79,358.52 L432.18,358.55 L432.57,358.58 L432.96,358.62 L433.36,358.65 L433.75,358.68 L434.14,358.71 L434.53,358.74 L434.93,358.77 L435.32,358.80 L435.71,358.83 L436.10,358.85 L436.50,358.88 L436.89,358.91 L437.28,358.94 L437.67,358.96 L438.06,358.99 L438.46,359.02 L438.85,359.04 L439.24,359.07 L439.63,359.09 L440.03,359.12 L440.42,359.14 L440.81,359.16 L441.20,359.19 L441.60,359.21 L441.99,359.24 L442.38,359.26 L442.77,359.28 L443.17,359.31 L443.56,359.33 L443.95,359.35 L444.34,359.38 L444.74,359.40 L445.13,359.42 L445.52,359.44 L445.91,359.46 L446.31,359.49 L446.70,359.51 L447.09,359.53 L447.48,359.55 L447.88,359.57 L448.27,359.59 L448.66,359.62 L449.05,359.64 L449.44,359.66 L449.84,359.68 L450.23,359.70 L450.62,359.72 L451.01,359.74 L451.41,359.76 L451.80,359.78 L452.19,359.80 L452.58,359.82 L452.98,359.84 L453.37,359.86 L453.76,359.88 L454.15,359.89 L454.55,359.91 L454.94,359.93 L455.33,359.95 L455.72,359.97 L456.12,359.99 L456.51,360.00 L456.90,360.02 L457.29,360.04 L457.69,360.06 L458.08,360.08 L458.47,360.09 L458.86,360.11 L459.25,360.13 L459.65,360.14 L460.04,360.16 L460.43,360.18 L460.82,360.19 L461.22,360.21 L461.61,360.23 L462.00,360.24 L462.39,360.26 L462.79,360.27 L463.18,360.29 L463.57,360.31 L463.96,360.32 L464.36,360.34 L464.75,360.35 L465.14,360.37 L465.53,360.38 L465.93,360.40 L466.32,360.41 L466.71,360.43 L467.10,360.44 L467.50,360.45 L467.89,360.47 L468.28,360.48 L468.67,360.50 L469.07,360.51 L469.46,360.52 L469.85,360.54 L470.24,360.55 L470.63,360.56 L471.03,360.58 L471.42,360.59 L471.81,360.60 L472.20,360.62 L472.60,360.63 L472.99,360.64 L473.38,360.65 L473.77,360.67 L474.17,360.68 L474.56,360.69 L474.95,360.70 L475.34,360.71 L475.74,360.73 L476.13,360.74 L476.52,360.75 L476.91,360.76 L477.31,360.77 L477.70,360.78 L478.09,360.79 L478.48,360.80 L478.88,360.81 L479.27,360.82 L479.66,360.84 L480.05,360.85 L480.45,360.86 L480.84,360.87 L481.23,360.88 L481.62,360.89 L482.01,360.90 L482.41,360.91 L482.80,360.92 L483.19,360.92 L483.58,360.93 L483.98,360.94 L484.37,360.95 L484.76,360.96 L485.15,360.97 L485.55,360.98 L485.94,360.99 L486.33,361.00 L486.72,361.01 L487.12,361.01 L487.51,361.02 L487.90,361.03 L488.29,361.04 L488.69,361.05 L489.08,361.05 L489.47,361.06 L489.86,361.07 L490.26,361.08 L490.65,361.08 L491.04,361.09 L491.43,361.10 L491.83,361.11 L492.22,361.11 L492.61,361.12 L493.00,361.13 L493.39,361.13 L493.79,361.14 L494.18,361.15 L494.57,361.15 L494.96,361.16 L495.36,361.17 L495.75,361.17 L496.14,361.18 L496.53,361.19 L496.93,361.19 L497.32,361.20 L497.71,361.20 L498.10,361.21 L498.50,361.21 L498.89,361.22 L499.28,361.23 L499.67,361.23 L500.07,361.24 L500.46,361.24 L500.85,361.25 L501.24,361.25 L501.64,361.26 L502.03,361.26 L502.42,361.27 L502.81,361.27 L503.20,361.28 L503.60,361.28 L503.99,361.28 L504.38,361.29 L504.77,361.29 L505.17,361.30 L505.56,361.30 L505.95,361.31 L506.34,361.31 L506.74,361.31 L507.13,361.32 L507.52,361.32 L507.91,361.32 L508.31,361.33 L508.70,361.33 L509.09,361.33 L509.48,361.34 L509.88,361.34 L510.27,361.34 L510.66,361.35 L511.05,361.35 L511.45,361.35 L511.84,361.36 L512.23,361.36 L512.62,361.36 L513.02,361.36 L513.41,361.37 L513.80,361.37" fill="none" stroke="#000" stroke-width="1.8" stroke-dasharray="7 4.2" /><path d="M43.30,362.20 L43.69,362.20 L44.08,362.20 L44.48,362.19 L44.87,362.19 L45.26,362.19 L45.65,362.19 L46.05,362.18 L46.44,362.18 L46.83,362.18 L47.22,362.18 L47.62,362.17 L48.01,362.17 L48.40,362.17 L48.79,362.17 L49.19,362.16 L49.58,362.16 L49.97,362.16 L50.36,362.15 L50.76,362.15 L51.15,362.15 L51.54,362.14 L51.93,362.14 L52.33,362.14 L52.72,362.13 L53.11,362.13 L53.50,362.13 L53.90,362.12 L54.29,362.12 L54.68,362.12 L55.07,362.11 L55.46,362.11 L55.86,362.11 L56.25,362.10 L56.64,362.10 L57.03,362.09 L57.43,362.09 L57.82,362.09 L58.21,362.08 L58.60,362.08 L59.00,362.07 L59.39,362.07 L59.78,362.06 L60.17,362.06 L60.57,362.06 L60.96,362.05 L61.35,362.05 L61.74,362.04 L62.14,362.04 L62.53,362.03 L62.92,362.03 L63.31,362.02 L63.71,362.02 L64.10,362.01 L64.49,362.01 L64.88,362.01 L65.27,362.00 L65.67,362.00 L66.06,361.99 L66.45,361.99 L66.84,361.98 L67.24,361.98 L67.63,361.97 L68.02,361.97 L68.41,361.96 L68.81,361.96 L69.20,361.95 L69.59,361.95 L69.98,361.94 L70.38,361.93 L70.77,361.93 L71.16,361.92 L71.55,361.92 L71.95,361.91 L72.34,361.91 L72.73,361.90 L73.12,361.90 L73.52,361.89 L73.91,361.89 L74.30,361.88 L74.69,361.88 L75.09,361.87 L75.48,361.86 L75.87,361.86 L76.26,361.85 L76.65,361.85 L77.05,361.84 L77.44,361.84 L77.83,361.83 L78.22,361.83 L78.62,361.82 L79.01,361.81 L79.40,361.81 L79.79,361.80 L80.19,361.80 L80.58,361.79 L80.97,361.79 L81.36,361.78 L81.76,361.77 L82.15,361.77 L82.54,361.76 L82.93,361.75 L83.33,361.75 L83.72,361.74 L84.11,361.73 L84.50,361.73 L84.90,361.72 L85.29,361.71 L85.68,361.70 L86.07,361.70 L86.47,361.69 L86.86,361.68 L87.25,361.67 L87.64,361.67 L88.03,361.66 L88.43,361.65 L88.82,361.64 L89.21,361.64 L89.60,361.63 L90.00,361.62 L90.39,361.61 L90.78,361.60 L91.17,361.59 L91.57,361.59 L91.96,361.58 L92.35,361.57 L92.74,361.56 L93.14,361.55 L93.53,361.54 L93.92,361.54 L94.31,361.53 L94.71,361.52 L95.10,361.51 L95.49,361.50 L95.88,361.49 L96.28,361.48 L96.67,361.47 L97.06,361.47 L97.45,361.46 L97.85,361.45 L98.24,361.44 L98.63,361.43 L99.02,361.42 L99.41,361.41 L99.81,361.40 L100.20,361.40 L100.59,361.39 L100.98,361.38 L101.38,361.37 L101.77,361.36 L102.16,361.35 L102.55,361.34 L102.95,361.33 L103.34,361.33 L103.73,361.32 L104.12,361.31 L104.52,361.30 L104.91,361.29 L105.30,361.28 L105.69,361.27 L106.09,361.27 L106.48,361.26 L106.87,361.25 L107.26,361.24 L107.66,361.23 L108.05,361.22 L108.44,361.21 L108.83,361.20 L109.22,361.19 L109.62,361.18 L110.01,361.17 L110.40,361.17 L110.79,361.16 L111.19,361.15 L111.58,361.14 L111.97,361.13 L112.36,361.12 L112.76,361.11 L113.15,361.10 L113.54,361.09 L113.93,361.08 L114.33,361.07 L114.72,361.06 L115.11,361.04 L115.50,361.03 L115.90,361.02 L116.29,361.01 L116.68,361.00 L117.07,360.99 L117.47,360.98 L117.86,360.97 L118.25,360.95 L118.64,360.94 L119.04,360.93 L119.43,360.92 L119.82,360.91 L120.21,360.89 L120.60,360.88 L121.00,360.87 L121.39,360.85 L121.78,360.84 L122.17,360.83 L122.57,360.81 L122.96,360.80 L123.35,360.79 L123.74,360.77 L124.14,360.76 L124.53,360.74 L124.92,360.73 L125.31,360.71 L125.71,360.70 L126.10,360.68 L126.49,360.67 L126.88,360.65 L127.28,360.63 L127.67,360.62 L128.06,360.60 L128.45,360.58 L128.85,360.57 L129.24,360.55 L129.63,360.53 L130.02,360.51 L130.42,360.50 L130.81,360.48 L131.20,360.46 L131.59,360.44 L131.98,360.42 L132.38,360.41 L132.77,360.39 L133.16,360.37 L133.55,360.35 L133.95,360.33 L134.34,360.31 L134.73,360.29 L135.12,360.27 L135.52,360.25 L135.91,360.23 L136.30,360.21 L136.69,360.19 L137.09,360.16 L137.48,360.14 L137.87,360.12 L138.26,360.10 L138.66,360.08 L139.05,360.05 L139.44,360.03 L139.83,360.01 L140.23,359.99 L140.62,359.96 L141.01,359.94 L141.40,359.92 L141.79,359.89 L142.19,359.87 L142.58,359.84 L142.97,359.82 L143.36,359.79 L143.76,359.77 L144.15,359.74 L144.54,359.71 L144.93,359.68 L145.33,359.66 L145.72,359.63 L146.11,359.60 L146.50,359.57 L146.90,359.54 L147.29,359.51 L147.68,359.48 L148.07,359.45 L148.47,359.42 L148.86,359.39 L149.25,359.35 L149.64,359.32 L150.04,359.29 L150.43,359.25 L150.82,359.22 L151.21,359.18 L151.61,359.14 L152.00,359.11 L152.39,359.07 L152.78,359.03 L153.17,358.99 L153.57,358.95 L153.96,358.91 L154.35,358.87 L154.74,358.83 L155.14,358.78 L155.53,358.74 L155.92,358.69 L156.31,358.65 L156.71,358.59 L157.10,358.54 L157.49,358.49 L157.88,358.43 L158.28,358.37 L158.67,358.32 L159.06,358.25 L159.45,358.19 L159.85,358.13 L160.24,358.06 L160.63,358.00 L161.02,357.93 L161.42,357.86 L161.81,357.79 L162.20,357.72 L162.59,357.65 L162.99,357.58 L163.38,357.51 L163.77,357.43 L164.16,357.36 L164.55,357.29 L164.95,357.21 L165.34,357.13 L165.73,357.06 L166.12,356.98 L166.52,356.90 L166.91,356.83 L167.30,356.75 L167.69,356.67 L168.09,356.58 L168.48,356.50 L168.87,356.41 L169.26,356.33 L169.66,356.24 L170.05,356.15 L170.44,356.06 L170.83,355.96 L171.23,355.87 L171.62,355.77 L172.01,355.67 L172.40,355.56 L172.80,355.45 L173.19,355.35 L173.58,355.23 L173.97,355.12 L174.37,355.00 L174.76,354.88 L175.15,354.75 L175.54,354.62 L175.93,354.48 L176.33,354.33 L176.72,354.17 L177.11,354.00 L177.50,353.83 L177.90,353.66 L178.29,353.47 L178.68,353.29 L179.07,353.10 L179.47,352.90 L179.86,352.71 L180.25,352.51 L180.64,352.31 L181.04,352.10 L181.43,351.90 L181.82,351.70 L182.21,351.50 L182.61,351.29 L183.00,351.09 L183.39,350.88 L183.78,350.67 L184.18,350.45 L184.57,350.23 L184.96,350.00 L185.35,349.78 L185.74,349.54 L186.14,349.31 L186.53,349.07 L186.92,348.83 L187.31,348.59 L187.71,348.34 L188.10,348.09 L188.49,347.84 L188.88,347.58 L189.28,347.31 L189.67,347.04 L190.06,346.77 L190.45,346.49 L190.85,346.21 L191.24,345.93 L191.63,345.64 L192.02,345.36 L192.42,345.07 L192.81,344.78 L193.20,344.49 L193.59,344.18 L193.99,343.88 L194.38,343.56 L194.77,343.23 L195.16,342.89 L195.56,342.53 L195.95,342.17 L196.34,341.79 L196.73,341.39 L197.12,340.98 L197.52,340.56 L197.91,340.12 L198.30,339.67 L198.69,339.20 L199.09,338.71 L199.48,338.20 L199.87,337.68 L200.26,337.13 L200.66,336.54 L201.05,335.93 L201.44,335.28 L201.83,334.61 L202.23,333.91 L202.62,333.19 L203.01,332.45 L203.40,331.69 L203.80,330.91 L204.19,330.11 L204.58,329.28 L204.97,328.40 L205.37,327.49 L205.76,326.55 L206.15,325.59 L206.54,324.62 L206.94,323.64 L207.33,322.66 L207.72,321.69 L208.11,320.73 L208.50,319.76 L208.90,318.79 L209.29,317.81 L209.68,316.83 L210.07,315.84 L210.47,314.86 L210.86,313.87 L211.25,312.88 L211.64,311.89 L212.04,310.91 L212.43,309.95 L212.82,309.00 L213.21,308.06 L213.61,307.12 L214.00,306.15 L214.39,305.15 L214.78,304.10 L215.18,303.00 L215.57,301.86 L215.96,300.68 L216.35,299.45 L216.75,298.18 L217.14,296.86 L217.53,295.49 L217.92,294.05 L218.32,292.55 L218.71,290.91 L219.10,289.16 L219.49,287.31 L219.88,285.42 L220.28,283.51 L220.67,281.62 L221.06,279.77 L221.45,277.91 L221.85,276.05 L222.24,274.17 L222.63,272.28 L223.02,270.36 L223.42,268.42 L223.81,266.45 L224.20,264.46 L224.59,262.45 L224.99,260.41 L225.38,258.34 L225.77,256.24 L226.16,254.10 L226.56,251.86 L226.95,249.57 L227.34,247.27 L227.73,245.02 L228.13,242.87 L228.52,240.85 L228.91,238.93 L229.30,237.05 L229.69,235.16 L230.09,233.20 L230.48,231.11 L230.87,228.85 L231.26,226.44 L231.66,223.95 L232.05,221.44 L232.44,218.97 L232.83,216.58 L233.23,214.23 L233.62,211.88 L234.01,209.55 L234.40,207.23 L234.80,204.92 L235.19,202.63 L235.58,200.34 L235.97,198.05 L236.37,195.78 L236.76,193.52 L237.15,191.31 L237.54,189.13 L237.94,186.98 L238.33,184.84 L238.72,182.69 L239.11,180.52 L239.51,178.32 L239.90,176.07 L240.29,173.75 L240.68,171.36 L241.07,168.88 L241.47,166.29 L241.86,163.60 L242.25,160.84 L242.64,158.01 L243.04,155.14 L243.43,152.25 L243.82,149.35 L244.21,146.46 L244.61,143.61 L245.00,140.80 L245.39,138.02 L245.78,135.25 L246.18,132.49 L246.57,129.74 L246.96,126.97 L247.35,124.20 L247.75,121.40 L248.14,118.58 L248.53,115.73 L248.92,112.83 L249.32,109.88 L249.71,106.89 L250.10,103.86 L250.49,100.81 L250.89,97.73 L251.28,94.65 L251.67,91.58 L252.06,88.51 L252.45,85.34 L252.85,82.07 L253.24,78.79 L253.63,75.61 L254.02,72.63 L254.42,69.93 L254.81,67.56 L255.20,65.44 L255.59,63.46 L255.99,61.56 L256.38,59.65 L256.77,57.65 L257.16,55.51 L257.56,53.27 L257.95,51.02 L258.34,48.83 L258.73,46.78 L259.13,44.93 L259.52,43.18 L259.91,41.49 L260.30,39.91 L260.70,38.45 L261.09,37.14 L261.48,35.99 L261.87,34.90 L262.26,33.88 L262.66,32.96 L263.05,32.18 L263.44,31.57 L263.83,31.10 L264.23,30.66 L264.62,30.28 L265.01,29.99 L265.40,29.82 L265.80,29.75 L266.19,29.69 L266.58,29.65 L266.97,29.62 L267.37,29.60 L267.76,29.63 L268.15,29.75 L268.54,29.96 L268.94,30.23 L269.33,30.52 L269.72,30.82 L270.11,31.14 L270.51,31.53 L270.90,31.98 L271.29,32.46 L271.68,32.95 L272.08,33.46 L272.47,33.96 L272.86,34.47 L273.25,35.01 L273.64,35.57 L274.04,36.13 L274.43,36.67 L274.82,37.18 L275.21,37.65 L275.61,38.11 L276.00,38.56 L276.39,38.99 L276.78,39.39 L277.18,39.75 L277.57,40.05 L277.96,40.33 L278.35,40.59 L278.75,40.83 L279.14,41.04 L279.53,41.22 L279.92,41.37 L280.32,41.50 L280.71,41.63 L281.10,41.74 L281.49,41.83 L281.89,41.88 L282.28,41.90 L282.67,41.85 L283.06,41.74 L283.46,41.58 L283.85,41.39 L284.24,41.18 L284.63,40.87 L285.02,40.43 L285.42,39.91 L285.81,39.35 L286.20,38.80 L286.59,38.23 L286.99,37.61 L287.38,36.97 L287.77,36.31 L288.16,35.66 L288.56,35.01 L288.95,34.34 L289.34,33.66 L289.73,33.00 L290.13,32.36 L290.52,31.77 L290.91,31.19 L291.30,30.59 L291.70,30.02 L292.09,29.49 L292.48,29.03 L292.87,28.68 L293.27,28.44 L293.66,28.21 L294.05,28.00 L294.44,27.83 L294.84,27.70 L295.23,27.62 L295.62,27.61 L296.01,27.71 L296.40,27.93 L296.80,28.23 L297.19,28.60 L297.58,29.02 L297.97,29.47 L298.37,30.01 L298.76,30.74 L299.15,31.62 L299.54,32.63 L299.94,33.73 L300.33,34.90 L300.72,36.33 L301.11,37.99 L301.51,39.81 L301.90,41.69 L302.29,43.55 L302.68,45.31 L303.08,47.00 L303.47,48.69 L303.86,50.42 L304.25,52.23 L304.65,54.18 L305.04,56.34 L305.43,58.76 L305.82,61.36 L306.21,64.07 L306.61,66.77 L307.00,69.40 L307.39,71.93 L307.78,74.45 L308.18,76.95 L308.57,79.46 L308.96,81.98 L309.35,84.54 L309.75,87.14 L310.14,89.80 L310.53,92.51 L310.92,95.25 L311.32,98.02 L311.71,100.81 L312.10,103.60 L312.49,106.40 L312.89,109.19 L313.28,111.97 L313.67,114.74 L314.06,117.52 L314.46,120.30 L314.85,123.09 L315.24,125.88 L315.63,128.68 L316.03,131.50 L316.42,134.33 L316.81,137.20 L317.20,140.12 L317.59,143.08 L317.99,146.07 L318.38,149.06 L318.77,152.04 L319.16,154.99 L319.56,157.91 L319.95,160.76 L320.34,163.54 L320.73,166.24 L321.13,168.82 L321.52,171.28 L321.91,173.64 L322.30,175.95 L322.70,178.23 L323.09,180.53 L323.48,182.88 L323.87,185.28 L324.27,187.69 L324.66,190.11 L325.05,192.53 L325.44,194.97 L325.84,197.42 L326.23,199.89 L326.62,202.37 L327.01,204.87 L327.41,207.39 L327.80,209.95 L328.19,212.58 L328.58,215.25 L328.97,217.94 L329.37,220.61 L329.76,223.25 L330.15,225.81 L330.54,228.27 L330.94,230.65 L331.33,232.97 L331.72,235.24 L332.11,237.48 L332.51,239.68 L332.90,241.87 L333.29,244.05 L333.68,246.23 L334.08,248.43 L334.47,250.64 L334.86,252.85 L335.25,255.07 L335.65,257.27 L336.04,259.47 L336.43,261.64 L336.82,263.79 L337.22,265.90 L337.61,267.97 L338.00,270.00 L338.39,272.00 L338.78,274.00 L339.18,275.99 L339.57,277.96 L339.96,279.89 L340.35,281.78 L340.75,283.62 L341.14,285.39 L341.53,287.09 L341.92,288.70 L342.32,290.23 L342.71,291.70 L343.10,293.11 L343.49,294.47 L343.89,295.79 L344.28,297.08 L344.67,298.34 L345.06,299.58 L345.46,300.81 L345.85,302.03 L346.24,303.24 L346.63,304.44 L347.03,305.63 L347.42,306.79 L347.81,307.94 L348.20,309.07 L348.60,310.18 L348.99,311.27 L349.38,312.35 L349.77,313.40 L350.16,314.43 L350.56,315.45 L350.95,316.46 L351.34,317.46 L351.73,318.44 L352.13,319.41 L352.52,320.36 L352.91,321.30 L353.30,322.22 L353.70,323.13 L354.09,324.01 L354.48,324.88 L354.87,325.73 L355.27,326.56 L355.66,327.39 L356.05,328.22 L356.44,329.04 L356.84,329.84 L357.23,330.63 L357.62,331.40 L358.01,332.15 L358.41,332.88 L358.80,333.57 L359.19,334.24 L359.58,334.87 L359.98,335.46 L360.37,336.03 L360.76,336.57 L361.15,337.10 L361.54,337.61 L361.94,338.11 L362.33,338.59 L362.72,339.06 L363.11,339.51 L363.51,339.95 L363.90,340.38 L364.29,340.80 L364.68,341.21 L365.08,341.60 L365.47,341.99 L365.86,342.37 L366.25,342.74 L366.65,343.11 L367.04,343.47 L367.43,343.83 L367.82,344.18 L368.22,344.53 L368.61,344.88 L369.00,345.21 L369.39,345.55 L369.79,345.87 L370.18,346.20 L370.57,346.51 L370.96,346.82 L371.36,347.12 L371.75,347.41 L372.14,347.69 L372.53,347.97 L372.92,348.24 L373.32,348.50 L373.71,348.75 L374.10,348.99 L374.49,349.22 L374.89,349.44 L375.28,349.65 L375.67,349.86 L376.06,350.07 L376.46,350.27 L376.85,350.47 L377.24,350.67 L377.63,350.86 L378.03,351.05 L378.42,351.24 L378.81,351.43 L379.20,351.61 L379.60,351.79 L379.99,351.97 L380.38,352.14 L380.77,352.31 L381.17,352.48 L381.56,352.64 L381.95,352.80 L382.34,352.96 L382.73,353.12 L383.13,353.27 L383.52,353.42 L383.91,353.57 L384.30,353.72 L384.70,353.86 L385.09,354.00 L385.48,354.13 L385.87,354.27 L386.27,354.40 L386.66,354.52 L387.05,354.65 L387.44,354.77 L387.84,354.89 L388.23,355.01 L388.62,355.12 L389.01,355.23 L389.41,355.34 L389.80,355.45 L390.19,355.55 L390.58,355.65 L390.98,355.75 L391.37,355.85 L391.76,355.95 L392.15,356.05 L392.55,356.15 L392.94,356.25 L393.33,356.35 L393.72,356.44 L394.11,356.54 L394.51,356.63 L394.90,356.73 L395.29,356.82 L395.68,356.91 L396.08,357.00 L396.47,357.09 L396.86,357.18 L397.25,357.26 L397.65,357.35 L398.04,357.43 L398.43,357.52 L398.82,357.60 L399.22,357.68 L399.61,357.76 L400.00,357.84 L400.39,357.92 L400.79,357.99 L401.18,358.07 L401.57,358.14 L401.96,358.21 L402.36,358.28 L402.75,358.35 L403.14,358.41 L403.53,358.48 L403.93,358.54 L404.32,358.60 L404.71,358.67 L405.10,358.72 L405.49,358.78 L405.89,358.84 L406.28,358.89 L406.67,358.94 L407.06,358.99 L407.46,359.04 L407.85,359.08 L408.24,359.13 L408.63,359.17 L409.03,359.21 L409.42,359.25 L409.81,359.28 L410.20,359.32 L410.60,359.35 L410.99,359.38 L411.38,359.42 L411.77,359.45 L412.17,359.48 L412.56,359.51 L412.95,359.54 L413.34,359.57 L413.74,359.60 L414.13,359.63 L414.52,359.66 L414.91,359.69 L415.31,359.72 L415.70,359.75 L416.09,359.78 L416.48,359.81 L416.87,359.83 L417.27,359.86 L417.66,359.89 L418.05,359.91 L418.44,359.94 L418.84,359.97 L419.23,359.99 L419.62,360.02 L420.01,360.04 L420.41,360.06 L420.80,360.09 L421.19,360.11 L421.58,360.13 L421.98,360.16 L422.37,360.18 L422.76,360.20 L423.15,360.22 L423.55,360.25 L423.94,360.27 L424.33,360.29 L424.72,360.31 L425.12,360.33 L425.51,360.35 L425.90,360.37 L426.29,360.39 L426.68,360.41 L427.08,360.43 L427.47,360.44 L427.86,360.46 L428.25,360.48 L428.65,360.50 L429.04,360.52 L429.43,360.53 L429.82,360.55 L430.22,360.57 L430.61,360.58 L431.00,360.60 L431.39,360.61 L431.79,360.63 L432.18,360.65 L432.57,360.66 L432.96,360.68 L433.36,360.69 L433.75,360.70 L434.14,360.72 L434.53,360.73 L434.93,360.75 L435.32,360.76 L435.71,360.77 L436.10,360.78 L436.50,360.80 L436.89,360.81 L437.28,360.82 L437.67,360.83 L438.06,360.85 L438.46,360.86 L438.85,360.87 L439.24,360.88 L439.63,360.89 L440.03,360.90 L440.42,360.91 L440.81,360.92 L441.20,360.93 L441.60,360.94 L441.99,360.95 L442.38,360.96 L442.77,360.97 L443.17,360.98 L443.56,360.99 L443.95,361.00 L444.34,361.01 L444.74,361.02 L445.13,361.03 L445.52,361.04 L445.91,361.05 L446.31,361.06 L446.70,361.06 L447.09,361.07 L447.48,361.08 L447.88,361.09 L448.27,361.10 L448.66,361.11 L449.05,361.12 L449.44,361.12 L449.84,361.13 L450.23,361.14 L450.62,361.15 L451.01,361.16 L451.41,361.16 L451.80,361.17 L452.19,361.18 L452.58,361.19 L452.98,361.19 L453.37,361.20 L453.76,361.21 L454.15,361.22 L454.55,361.22 L454.94,361.23 L455.33,361.24 L455.72,361.24 L456.12,361.25 L456.51,361.26 L456.90,361.26 L457.29,361.27 L457.69,361.28 L458.08,361.28 L458.47,361.29 L458.86,361.30 L459.25,361.30 L459.65,361.31 L460.04,361.32 L460.43,361.32 L460.82,361.33 L461.22,361.33 L461.61,361.34 L462.00,361.35 L462.39,361.35 L462.79,361.36 L463.18,361.36 L463.57,361.37 L463.96,361.38 L464.36,361.38 L464.75,361.39 L465.14,361.39 L465.53,361.40 L465.93,361.40 L466.32,361.41 L466.71,361.42 L467.10,361.42 L467.50,361.43 L467.89,361.43 L468.28,361.44 L468.67,361.44 L469.07,361.45 L469.46,361.45 L469.85,361.46 L470.24,361.47 L470.63,361.47 L471.03,361.48 L471.42,361.48 L471.81,361.49 L472.20,361.49 L472.60,361.50 L472.99,361.50 L473.38,361.51 L473.77,361.51 L474.17,361.52 L474.56,361.52 L474.95,361.53 L475.34,361.54 L475.74,361.54 L476.13,361.55 L476.52,361.55 L476.91,361.56 L477.31,361.56 L477.70,361.57 L478.09,361.57 L478.48,361.58 L478.88,361.58 L479.27,361.59 L479.66,361.60 L480.05,361.60 L480.45,361.61 L480.84,361.61 L481.23,361.62 L481.62,361.62 L482.01,361.63 L482.41,361.63 L482.80,361.64 L483.19,361.64 L483.58,361.65 L483.98,361.65 L484.37,361.66 L484.76,361.67 L485.15,361.67 L485.55,361.68 L485.94,361.68 L486.33,361.69 L486.72,361.69 L487.12,361.70 L487.51,361.70 L487.90,361.71 L488.29,361.71 L488.69,361.72 L489.08,361.72 L489.47,361.73 L489.86,361.73 L490.26,361.74 L490.65,361.74 L491.04,361.75 L491.43,361.75 L491.83,361.76 L492.22,361.76 L492.61,361.77 L493.00,361.77 L493.39,361.78 L493.79,361.78 L494.18,361.79 L494.57,361.79 L494.96,361.80 L495.36,361.80 L495.75,361.81 L496.14,361.81 L496.53,361.82 L496.93,361.82 L497.32,361.83 L497.71,361.83 L498.10,361.83 L498.50,361.84 L498.89,361.84 L499.28,361.85 L499.67,361.85 L500.07,361.86 L500.46,361.86 L500.85,361.87 L501.24,361.87 L501.64,361.88 L502.03,361.88 L502.42,361.88 L502.81,361.89 L503.20,361.89 L503.60,361.90 L503.99,361.90 L504.38,361.91 L504.77,361.91 L505.17,361.91 L505.56,361.92 L505.95,361.92 L506.34,361.93 L506.74,361.93 L507.13,361.93 L507.52,361.94 L507.91,361.94 L508.31,361.95 L508.70,361.95 L509.09,361.95 L509.48,361.96 L509.88,361.96 L510.27,361.97 L510.66,361.97 L511.05,361.97 L511.45,361.98 L511.84,361.98 L512.23,361.99 L512.62,361.99 L513.02,361.99 L513.41,362.00 L513.80,362.00" fill="none" stroke="#000" stroke-width="1.8" stroke-dasharray="6.8 3.8 1 3.5" /><path d="M44.30,364.90 L49.15,364.80 L53.99,364.80 L58.84,364.80 L63.68,364.90 L68.53,365.10 L73.37,369.00 L78.21,369.30 L83.04,368.40 L87.88,366.30 L92.71,364.90 L97.55,364.90 L102.38,364.90 L107.21,364.90 L112.04,364.70 L116.87,364.40 L121.69,364.40 L126.52,364.30 L131.34,364.20 L136.16,364.00 L140.98,363.80 L145.80,363.50 L150.62,363.00 L155.43,362.60 L160.24,362.40 L165.06,361.90 L169.87,361.90 L174.68,361.90 L179.48,358.60 L184.29,357.00 L189.09,354.30 L193.90,352.10 L198.70,347.80 L203.50,344.50 L208.30,338.60 L213.10,334.20 L217.89,329.20 L222.69,322.20 L227.48,314.40 L232.27,303.90 L237.06,292.40 L241.85,280.70 L246.64,268.00 L251.42,252.80 L256.20,239.20 L260.99,223.80 L265.77,206.90 L270.55,194.90 L275.32,183.60 L280.10,177.60 L284.88,167.60 L289.65,148.00 L294.42,125.70 L299.19,109.60 L303.96,113.80 L308.73,129.40 L313.49,152.20 L318.26,176.60 L323.02,203.30 L327.78,230.10 L332.54,261.90 L337.30,290.80 L342.06,313.40 L346.81,328.00 L351.56,337.70 L356.32,343.00 L361.07,347.00 L365.82,350.30 L370.56,353.00 L375.31,355.00 L380.06,357.60 L384.80,359.00 L389.54,360.30 L394.28,361.20 L399.02,360.60 L403.76,360.50 L408.49,360.90 L413.23,361.00 L417.96,361.50 L422.69,362.30 L427.42,363.60 L432.15,364.00 L436.88,365.40 L441.60,365.40 L446.32,364.90 L451.05,365.40 L455.77,364.30 L460.49,364.60 L465.20,364.90 L469.92,364.90 L474.64,364.90 L479.35,364.90 L484.06,364.90 L488.77,365.60 L493.48,368.10 L498.19,367.60 L502.89,366.30 L507.60,364.90 L512.30,364.10" fill="none" stroke="#000" stroke-width="1" stroke-dasharray="1 3.8" /><path d="M44.30,364.90 L49.15,364.80 L53.99,364.80 L58.84,364.80 L63.68,364.90 L68.53,365.10 L73.37,366.30 L78.21,366.30 L83.04,365.80 L87.88,365.20 L92.71,364.90 L97.55,364.90 L102.38,364.90 L107.21,364.90 L112.04,364.70 L116.87,364.40 L121.69,364.40 L126.52,364.10 L131.34,363.90 L136.16,363.30 L140.98,362.70 L145.80,362.00 L150.62,360.90 L155.43,360.00 L160.24,358.30 L165.06,356.50 L169.87,354.40 L174.68,351.70 L179.48,348.00 L184.29,345.10 L189.09,341.00 L193.90,336.70 L198.70,331.70 L203.50,327.00 L208.30,320.00 L213.10,311.70 L217.89,301.30 L222.69,287.50 L227.48,270.50 L232.27,252.90 L237.06,233.50 L241.85,212.50 L246.64,188.40 L251.42,162.20 L256.20,135.50 L260.99,114.90 L265.77,97.90 L270.55,90.00 L275.32,79.10 L280.10,64.50 L284.88,42.80 L289.65,23.40 L294.42,19.50 L299.19,30.50 L303.96,55.30 L308.73,84.70 L313.49,111.70 L318.26,150.70 L323.02,194.50 L327.78,238.30 L332.54,277.10 L337.30,303.70 L342.06,318.40 L346.81,328.10 L351.56,333.70 L356.32,338.10 L361.07,342.70 L365.82,346.10 L370.56,349.40 L375.31,351.70 L380.06,353.90 L384.80,356.10 L389.54,357.40 L394.28,358.30 L399.02,359.50 L403.76,359.70 L408.49,361.70 L413.23,362.20 L417.96,363.30 L422.69,364.60 L427.42,364.60 L432.15,364.10 L436.88,365.40 L441.60,365.40 L446.32,364.90 L451.05,365.40 L455.77,364.30 L460.49,364.60 L465.20,364.90 L469.92,364.90 L474.64,364.90 L479.35,364.90 L484.06,364.90 L488.77,365.00 L493.48,366.00 L498.19,364.70 L502.89,363.10 L507.60,362.00 L512.30,360.90" fill="none" stroke="#000" stroke-width="1" stroke-dasharray="1 3.8" /></g><rect x="43.3" y="7.0" width="470.49999999999994" height="370.7" fill="none" stroke="#000" stroke-width="1.5"/><path d="M43.30,377.7v-4.7M43.30,7.0v4.7M90.35,377.7v-4.7M90.35,7.0v4.7M137.40,377.7v-4.7M137.40,7.0v4.7M184.45,377.7v-4.7M184.45,7.0v4.7M231.50,377.7v-4.7M231.50,7.0v4.7M278.55,377.7v-4.7M278.55,7.0v4.7M325.60,377.7v-4.7M325.60,7.0v4.7M372.65,377.7v-4.7M372.65,7.0v4.7M419.70,377.7v-4.7M419.70,7.0v4.7M466.75,377.7v-4.7M466.75,7.0v4.7M513.80,377.7v-4.7M513.80,7.0v4.7M43.3,364.50h4.7M513.8,364.50h-4.7M43.3,330.12h4.7M513.8,330.12h-4.7M43.3,295.74h4.7M513.8,295.74h-4.7M43.3,261.36h4.7M513.8,261.36h-4.7M43.3,226.98h4.7M513.8,226.98h-4.7M43.3,192.60h4.7M513.8,192.60h-4.7M43.3,158.22h4.7M513.8,158.22h-4.7M43.3,123.84h4.7M513.8,123.84h-4.7M43.3,89.46h4.7M513.8,89.46h-4.7M43.3,55.08h4.7M513.8,55.08h-4.7M43.3,20.70h4.7M513.8,20.70h-4.7" stroke="#000" stroke-width="1.3" fill="none"/><rect x="71.87" y="367.50" width="3.0" height="3.0" fill="#fff" stroke="#000" stroke-width="1.4"/><rect x="76.71" y="367.80" width="3.0" height="3.0" fill="#fff" stroke="#000" stroke-width="1.4"/><rect x="81.54" y="366.90" width="3.0" height="3.0" fill="#fff" stroke="#000" stroke-width="1.4"/><rect x="86.38" y="364.80" width="3.0" height="3.0" fill="#fff" stroke="#000" stroke-width="1.4"/><rect x="134.66" y="362.50" width="3.0" height="3.0" fill="#fff" stroke="#000" stroke-width="1.4"/><rect x="139.48" y="362.30" width="3.0" height="3.0" fill="#fff" stroke="#000" stroke-width="1.4"/><rect x="144.30" y="362.00" width="3.0" height="3.0" fill="#fff" stroke="#000" stroke-width="1.4"/><rect x="149.12" y="361.50" width="3.0" height="3.0" fill="#fff" stroke="#000" stroke-width="1.4"/><rect x="153.93" y="361.10" width="3.0" height="3.0" fill="#fff" stroke="#000" stroke-width="1.4"/><rect x="158.74" y="360.90" width="3.0" height="3.0" fill="#fff" stroke="#000" stroke-width="1.4"/><rect x="163.56" y="360.40" width="3.0" height="3.0" fill="#fff" stroke="#000" stroke-width="1.4"/><rect x="168.37" y="360.40" width="3.0" height="3.0" fill="#fff" stroke="#000" stroke-width="1.4"/><rect x="173.18" y="360.40" width="3.0" height="3.0" fill="#fff" stroke="#000" stroke-width="1.4"/><rect x="177.98" y="357.10" width="3.0" height="3.0" fill="#fff" stroke="#000" stroke-width="1.4"/><rect x="182.79" y="355.50" width="3.0" height="3.0" fill="#fff" stroke="#000" stroke-width="1.4"/><rect x="187.59" y="352.80" width="3.0" height="3.0" fill="#fff" stroke="#000" stroke-width="1.4"/><rect x="192.40" y="350.60" width="3.0" height="3.0" fill="#fff" stroke="#000" stroke-width="1.4"/><rect x="197.20" y="346.30" width="3.0" height="3.0" fill="#fff" stroke="#000" stroke-width="1.4"/><rect x="202.00" y="343.00" width="3.0" height="3.0" fill="#fff" stroke="#000" stroke-width="1.4"/><rect x="206.80" y="337.10" width="3.0" height="3.0" fill="#fff" stroke="#000" stroke-width="1.4"/><rect x="211.60" y="332.70" width="3.0" height="3.0" fill="#fff" stroke="#000" stroke-width="1.4"/><rect x="216.39" y="327.70" width="3.0" height="3.0" fill="#fff" stroke="#000" stroke-width="1.4"/><rect x="221.19" y="320.70" width="3.0" height="3.0" fill="#fff" stroke="#000" stroke-width="1.4"/><rect x="225.98" y="312.90" width="3.0" height="3.0" fill="#fff" stroke="#000" stroke-width="1.4"/><rect x="230.77" y="302.40" width="3.0" height="3.0" fill="#fff" stroke="#000" stroke-width="1.4"/><rect x="235.56" y="290.90" width="3.0" height="3.0" fill="#fff" stroke="#000" stroke-width="1.4"/><rect x="240.35" y="279.20" width="3.0" height="3.0" fill="#fff" stroke="#000" stroke-width="1.4"/><rect x="245.14" y="266.50" width="3.0" height="3.0" fill="#fff" stroke="#000" stroke-width="1.4"/><rect x="249.92" y="251.30" width="3.0" height="3.0" fill="#fff" stroke="#000" stroke-width="1.4"/><rect x="254.70" y="237.70" width="3.0" height="3.0" fill="#fff" stroke="#000" stroke-width="1.4"/><rect x="259.49" y="222.30" width="3.0" height="3.0" fill="#fff" stroke="#000" stroke-width="1.4"/><rect x="264.27" y="205.40" width="3.0" height="3.0" fill="#fff" stroke="#000" stroke-width="1.4"/><rect x="269.05" y="193.40" width="3.0" height="3.0" fill="#fff" stroke="#000" stroke-width="1.4"/><rect x="273.82" y="182.10" width="3.0" height="3.0" fill="#fff" stroke="#000" stroke-width="1.4"/><rect x="278.60" y="176.10" width="3.0" height="3.0" fill="#fff" stroke="#000" stroke-width="1.4"/><rect x="283.38" y="166.10" width="3.0" height="3.0" fill="#fff" stroke="#000" stroke-width="1.4"/><rect x="288.15" y="146.50" width="3.0" height="3.0" fill="#fff" stroke="#000" stroke-width="1.4"/><rect x="292.92" y="124.20" width="3.0" height="3.0" fill="#fff" stroke="#000" stroke-width="1.4"/><rect x="297.69" y="108.10" width="3.0" height="3.0" fill="#fff" stroke="#000" stroke-width="1.4"/><rect x="302.46" y="112.30" width="3.0" height="3.0" fill="#fff" stroke="#000" stroke-width="1.4"/><rect x="307.23" y="127.90" width="3.0" height="3.0" fill="#fff" stroke="#000" stroke-width="1.4"/><rect x="311.99" y="150.70" width="3.0" height="3.0" fill="#fff" stroke="#000" stroke-width="1.4"/><rect x="316.76" y="175.10" width="3.0" height="3.0" fill="#fff" stroke="#000" stroke-width="1.4"/><rect x="321.52" y="201.80" width="3.0" height="3.0" fill="#fff" stroke="#000" stroke-width="1.4"/><rect x="326.28" y="228.60" width="3.0" height="3.0" fill="#fff" stroke="#000" stroke-width="1.4"/><rect x="331.04" y="260.40" width="3.0" height="3.0" fill="#fff" stroke="#000" stroke-width="1.4"/><rect x="335.80" y="289.30" width="3.0" height="3.0" fill="#fff" stroke="#000" stroke-width="1.4"/><rect x="340.56" y="311.90" width="3.0" height="3.0" fill="#fff" stroke="#000" stroke-width="1.4"/><rect x="350.06" y="336.20" width="3.0" height="3.0" fill="#fff" stroke="#000" stroke-width="1.4"/><rect x="354.82" y="341.50" width="3.0" height="3.0" fill="#fff" stroke="#000" stroke-width="1.4"/><rect x="359.57" y="345.50" width="3.0" height="3.0" fill="#fff" stroke="#000" stroke-width="1.4"/><rect x="364.32" y="348.80" width="3.0" height="3.0" fill="#fff" stroke="#000" stroke-width="1.4"/><rect x="369.06" y="351.50" width="3.0" height="3.0" fill="#fff" stroke="#000" stroke-width="1.4"/><rect x="373.81" y="353.50" width="3.0" height="3.0" fill="#fff" stroke="#000" stroke-width="1.4"/><rect x="378.56" y="356.10" width="3.0" height="3.0" fill="#fff" stroke="#000" stroke-width="1.4"/><rect x="383.30" y="357.50" width="3.0" height="3.0" fill="#fff" stroke="#000" stroke-width="1.4"/><rect x="388.04" y="358.80" width="3.0" height="3.0" fill="#fff" stroke="#000" stroke-width="1.4"/><rect x="392.78" y="359.70" width="3.0" height="3.0" fill="#fff" stroke="#000" stroke-width="1.4"/><rect x="397.52" y="359.10" width="3.0" height="3.0" fill="#fff" stroke="#000" stroke-width="1.4"/><rect x="402.26" y="359.00" width="3.0" height="3.0" fill="#fff" stroke="#000" stroke-width="1.4"/><rect x="406.99" y="359.40" width="3.0" height="3.0" fill="#fff" stroke="#000" stroke-width="1.4"/><rect x="411.73" y="359.50" width="3.0" height="3.0" fill="#fff" stroke="#000" stroke-width="1.4"/><rect x="416.46" y="360.00" width="3.0" height="3.0" fill="#fff" stroke="#000" stroke-width="1.4"/><rect x="421.19" y="360.80" width="3.0" height="3.0" fill="#fff" stroke="#000" stroke-width="1.4"/><rect x="425.92" y="362.10" width="3.0" height="3.0" fill="#fff" stroke="#000" stroke-width="1.4"/><rect x="487.27" y="364.10" width="3.0" height="3.0" fill="#fff" stroke="#000" stroke-width="1.4"/><rect x="491.98" y="366.60" width="3.0" height="3.0" fill="#fff" stroke="#000" stroke-width="1.4"/><rect x="496.69" y="366.10" width="3.0" height="3.0" fill="#fff" stroke="#000" stroke-width="1.4"/><rect x="501.39" y="364.80" width="3.0" height="3.0" fill="#fff" stroke="#000" stroke-width="1.4"/><rect x="506.10" y="363.40" width="3.0" height="3.0" fill="#fff" stroke="#000" stroke-width="1.4"/><rect x="510.80" y="362.60" width="3.0" height="3.0" fill="#fff" stroke="#000" stroke-width="1.4"/><circle cx="44.30" cy="364.90" r="1.8" fill="#fff" stroke="#000" stroke-width="1.4"/><circle cx="49.15" cy="364.80" r="1.8" fill="#fff" stroke="#000" stroke-width="1.4"/><circle cx="53.99" cy="364.80" r="1.8" fill="#fff" stroke="#000" stroke-width="1.4"/><circle cx="58.84" cy="364.80" r="1.8" fill="#fff" stroke="#000" stroke-width="1.4"/><circle cx="63.68" cy="364.90" r="1.8" fill="#fff" stroke="#000" stroke-width="1.4"/><circle cx="68.53" cy="365.10" r="1.8" fill="#fff" stroke="#000" stroke-width="1.4"/><circle cx="73.37" cy="366.30" r="1.8" fill="#fff" stroke="#000" stroke-width="1.4"/><circle cx="78.21" cy="366.30" r="1.8" fill="#fff" stroke="#000" stroke-width="1.4"/><circle cx="83.04" cy="365.80" r="1.8" fill="#fff" stroke="#000" stroke-width="1.4"/><circle cx="87.88" cy="365.20" r="1.8" fill="#fff" stroke="#000" stroke-width="1.4"/><circle cx="92.71" cy="364.90" r="1.8" fill="#fff" stroke="#000" stroke-width="1.4"/><circle cx="97.55" cy="364.90" r="1.8" fill="#fff" stroke="#000" stroke-width="1.4"/><circle cx="102.38" cy="364.90" r="1.8" fill="#fff" stroke="#000" stroke-width="1.4"/><circle cx="107.21" cy="364.90" r="1.8" fill="#fff" stroke="#000" stroke-width="1.4"/><circle cx="112.04" cy="364.70" r="1.8" fill="#fff" stroke="#000" stroke-width="1.4"/><circle cx="116.87" cy="364.40" r="1.8" fill="#fff" stroke="#000" stroke-width="1.4"/><circle cx="121.69" cy="364.40" r="1.8" fill="#fff" stroke="#000" stroke-width="1.4"/><circle cx="126.52" cy="364.10" r="1.8" fill="#fff" stroke="#000" stroke-width="1.4"/><circle cx="131.34" cy="363.90" r="1.8" fill="#fff" stroke="#000" stroke-width="1.4"/><circle cx="136.16" cy="363.30" r="1.8" fill="#fff" stroke="#000" stroke-width="1.4"/><circle cx="140.98" cy="362.70" r="1.8" fill="#fff" stroke="#000" stroke-width="1.4"/><circle cx="145.80" cy="362.00" r="1.8" fill="#fff" stroke="#000" stroke-width="1.4"/><circle cx="150.62" cy="360.90" r="1.8" fill="#fff" stroke="#000" stroke-width="1.4"/><circle cx="155.43" cy="360.00" r="1.8" fill="#fff" stroke="#000" stroke-width="1.4"/><circle cx="160.24" cy="358.30" r="1.8" fill="#fff" stroke="#000" stroke-width="1.4"/><circle cx="165.06" cy="356.50" r="1.8" fill="#fff" stroke="#000" stroke-width="1.4"/><circle cx="169.87" cy="354.40" r="1.8" fill="#fff" stroke="#000" stroke-width="1.4"/><circle cx="174.68" cy="351.70" r="1.8" fill="#fff" stroke="#000" stroke-width="1.4"/><circle cx="179.48" cy="348.00" r="1.8" fill="#fff" stroke="#000" stroke-width="1.4"/><circle cx="184.29" cy="345.10" r="1.8" fill="#fff" stroke="#000" stroke-width="1.4"/><circle cx="189.09" cy="341.00" r="1.8" fill="#fff" stroke="#000" stroke-width="1.4"/><circle cx="193.90" cy="336.70" r="1.8" fill="#fff" stroke="#000" stroke-width="1.4"/><circle cx="198.70" cy="331.70" r="1.8" fill="#fff" stroke="#000" stroke-width="1.4"/><circle cx="203.50" cy="327.00" r="1.8" fill="#fff" stroke="#000" stroke-width="1.4"/><circle cx="208.30" cy="320.00" r="1.8" fill="#fff" stroke="#000" stroke-width="1.4"/><circle cx="213.10" cy="311.70" r="1.8" fill="#fff" stroke="#000" stroke-width="1.4"/><circle cx="217.89" cy="301.30" r="1.8" fill="#fff" stroke="#000" stroke-width="1.4"/><circle cx="222.69" cy="287.50" r="1.8" fill="#fff" stroke="#000" stroke-width="1.4"/><circle cx="227.48" cy="270.50" r="1.8" fill="#fff" stroke="#000" stroke-width="1.4"/><circle cx="232.27" cy="252.90" r="1.8" fill="#fff" stroke="#000" stroke-width="1.4"/><circle cx="237.06" cy="233.50" r="1.8" fill="#fff" stroke="#000" stroke-width="1.4"/><circle cx="241.85" cy="212.50" r="1.8" fill="#fff" stroke="#000" stroke-width="1.4"/><circle cx="246.64" cy="188.40" r="1.8" fill="#fff" stroke="#000" stroke-width="1.4"/><circle cx="251.42" cy="162.20" r="1.8" fill="#fff" stroke="#000" stroke-width="1.4"/><circle cx="256.20" cy="135.50" r="1.8" fill="#fff" stroke="#000" stroke-width="1.4"/><circle cx="260.99" cy="114.90" r="1.8" fill="#fff" stroke="#000" stroke-width="1.4"/><circle cx="265.77" cy="97.90" r="1.8" fill="#fff" stroke="#000" stroke-width="1.4"/><circle cx="270.55" cy="90.00" r="1.8" fill="#fff" stroke="#000" stroke-width="1.4"/><circle cx="275.32" cy="79.10" r="1.8" fill="#fff" stroke="#000" stroke-width="1.4"/><circle cx="280.10" cy="64.50" r="1.8" fill="#fff" stroke="#000" stroke-width="1.4"/><circle cx="284.88" cy="42.80" r="1.8" fill="#fff" stroke="#000" stroke-width="1.4"/><circle cx="289.65" cy="23.40" r="1.8" fill="#fff" stroke="#000" stroke-width="1.4"/><circle cx="294.42" cy="19.50" r="1.8" fill="#fff" stroke="#000" stroke-width="1.4"/><circle cx="299.19" cy="30.50" r="1.8" fill="#fff" stroke="#000" stroke-width="1.4"/><circle cx="303.96" cy="55.30" r="1.8" fill="#fff" stroke="#000" stroke-width="1.4"/><circle cx="308.73" cy="84.70" r="1.8" fill="#fff" stroke="#000" stroke-width="1.4"/><circle cx="313.49" cy="111.70" r="1.8" fill="#fff" stroke="#000" stroke-width="1.4"/><circle cx="318.26" cy="150.70" r="1.8" fill="#fff" stroke="#000" stroke-width="1.4"/><circle cx="323.02" cy="194.50" r="1.8" fill="#fff" stroke="#000" stroke-width="1.4"/><circle cx="327.78" cy="238.30" r="1.8" fill="#fff" stroke="#000" stroke-width="1.4"/><circle cx="332.54" cy="277.10" r="1.8" fill="#fff" stroke="#000" stroke-width="1.4"/><circle cx="337.30" cy="303.70" r="1.8" fill="#fff" stroke="#000" stroke-width="1.4"/><circle cx="342.06" cy="318.40" r="1.8" fill="#fff" stroke="#000" stroke-width="1.4"/><circle cx="346.81" cy="328.10" r="1.8" fill="#fff" stroke="#000" stroke-width="1.4"/><circle cx="351.56" cy="333.70" r="1.8" fill="#fff" stroke="#000" stroke-width="1.4"/><circle cx="356.32" cy="338.10" r="1.8" fill="#fff" stroke="#000" stroke-width="1.4"/><circle cx="361.07" cy="342.70" r="1.8" fill="#fff" stroke="#000" stroke-width="1.4"/><circle cx="365.82" cy="346.10" r="1.8" fill="#fff" stroke="#000" stroke-width="1.4"/><circle cx="370.56" cy="349.40" r="1.8" fill="#fff" stroke="#000" stroke-width="1.4"/><circle cx="375.31" cy="351.70" r="1.8" fill="#fff" stroke="#000" stroke-width="1.4"/><circle cx="380.06" cy="353.90" r="1.8" fill="#fff" stroke="#000" stroke-width="1.4"/><circle cx="384.80" cy="356.10" r="1.8" fill="#fff" stroke="#000" stroke-width="1.4"/><circle cx="389.54" cy="357.40" r="1.8" fill="#fff" stroke="#000" stroke-width="1.4"/><circle cx="394.28" cy="358.30" r="1.8" fill="#fff" stroke="#000" stroke-width="1.4"/><circle cx="399.02" cy="359.50" r="1.8" fill="#fff" stroke="#000" stroke-width="1.4"/><circle cx="403.76" cy="359.70" r="1.8" fill="#fff" stroke="#000" stroke-width="1.4"/><circle cx="408.49" cy="361.70" r="1.8" fill="#fff" stroke="#000" stroke-width="1.4"/><circle cx="413.23" cy="362.20" r="1.8" fill="#fff" stroke="#000" stroke-width="1.4"/><circle cx="417.96" cy="363.30" r="1.8" fill="#fff" stroke="#000" stroke-width="1.4"/><circle cx="422.69" cy="364.60" r="1.8" fill="#fff" stroke="#000" stroke-width="1.4"/><circle cx="427.42" cy="364.60" r="1.8" fill="#fff" stroke="#000" stroke-width="1.4"/><circle cx="432.15" cy="364.10" r="1.8" fill="#fff" stroke="#000" stroke-width="1.4"/><circle cx="436.88" cy="365.40" r="1.8" fill="#fff" stroke="#000" stroke-width="1.4"/><circle cx="441.60" cy="365.40" r="1.8" fill="#fff" stroke="#000" stroke-width="1.4"/><circle cx="446.32" cy="364.90" r="1.8" fill="#fff" stroke="#000" stroke-width="1.4"/><circle cx="451.05" cy="365.40" r="1.8" fill="#fff" stroke="#000" stroke-width="1.4"/><circle cx="455.77" cy="364.30" r="1.8" fill="#fff" stroke="#000" stroke-width="1.4"/><circle cx="460.49" cy="364.60" r="1.8" fill="#fff" stroke="#000" stroke-width="1.4"/><circle cx="465.20" cy="364.90" r="1.8" fill="#fff" stroke="#000" stroke-width="1.4"/><circle cx="469.92" cy="364.90" r="1.8" fill="#fff" stroke="#000" stroke-width="1.4"/><circle cx="474.64" cy="364.90" r="1.8" fill="#fff" stroke="#000" stroke-width="1.4"/><circle cx="479.35" cy="364.90" r="1.8" fill="#fff" stroke="#000" stroke-width="1.4"/><circle cx="484.06" cy="364.90" r="1.8" fill="#fff" stroke="#000" stroke-width="1.4"/><circle cx="488.77" cy="365.00" r="1.8" fill="#fff" stroke="#000" stroke-width="1.4"/><circle cx="493.48" cy="366.00" r="1.8" fill="#fff" stroke="#000" stroke-width="1.4"/><circle cx="498.19" cy="364.70" r="1.8" fill="#fff" stroke="#000" stroke-width="1.4"/><circle cx="502.89" cy="363.10" r="1.8" fill="#fff" stroke="#000" stroke-width="1.4"/><circle cx="507.60" cy="362.00" r="1.8" fill="#fff" stroke="#000" stroke-width="1.4"/><circle cx="512.30" cy="360.90" r="1.8" fill="#fff" stroke="#000" stroke-width="1.4"/><text x="40.30" y="391.3" text-anchor="middle" class="tk">–500</text><text x="87.35" y="391.3" text-anchor="middle" class="tk">–400</text><text x="134.40" y="391.3" text-anchor="middle" class="tk">–300</text><text x="181.45" y="391.3" text-anchor="middle" class="tk">–200</text><text x="228.50" y="391.3" text-anchor="middle" class="tk">–<tspan class="one">1</tspan>00</text><text x="278.55" y="391.3" text-anchor="middle" class="tk">0</text><text x="325.60" y="391.3" text-anchor="middle" class="tk"><tspan class="one">1</tspan>00</text><text x="372.65" y="391.3" text-anchor="middle" class="tk">200</text><text x="419.70" y="391.3" text-anchor="middle" class="tk">300</text><text x="466.75" y="391.3" text-anchor="middle" class="tk">400</text><text x="513.80" y="391.3" text-anchor="middle" class="tk">500</text><text x="40.6" y="368.20" text-anchor="end" class="tky"><tspan class="one">1</tspan></text><text x="40.6" y="333.82" text-anchor="end" class="tky"><tspan class="one">1</tspan>.5</text><text x="40.6" y="299.44" text-anchor="end" class="tky">2</text><text x="40.6" y="265.06" text-anchor="end" class="tky">2.5</text><text x="40.6" y="230.68" text-anchor="end" class="tky">3</text><text x="40.6" y="196.30" text-anchor="end" class="tky">3.5</text><text x="40.6" y="161.92" text-anchor="end" class="tky">4</text><text x="40.6" y="127.54" text-anchor="end" class="tky">4.5</text><text x="40.6" y="93.16" text-anchor="end" class="tky">5</text><text x="40.6" y="58.78" text-anchor="end" class="tky">5.5</text><text x="40.6" y="24.40" text-anchor="end" class="tky">6</text><text x="278.9" y="408.6" text-anchor="middle" class="al">Velocity (km/s)</text><text transform="translate(17.4,192.2) rotate(-90)" text-anchor="middle" class="al">Relative Flux</text><text x="67.5" y="74.7" class="ha">H</text><path fill-rule="evenodd" d="M92.6,66.9 A7.0,8.4 0 1 0 106.6,66.9 A7.0,8.4 0 1 0 92.6,66.9 Z M97.0,66.9 A3.5,7.2 0 1 0 104.0,66.9 A3.5,7.2 0 1 0 97.0,66.9 Z" fill="#000"/><path d="M110.7,58.7 C109,62 107,65.5 106.2,69 C105.7,72 106.8,74.9 108.9,74.9 C110.6,74.9 112.1,72.6 112.8,70.6" fill="none" stroke="#000" stroke-width="2.3" stroke-linecap="round"/><rect x="379.6" y="12.1" width="128.29999999999995" height="79.30000000000001" fill="#fff" stroke="#000" stroke-width="1.1"/><path d="M385.0,21.8H415.8" stroke="#000" stroke-width="1.8"/><path d="M385.0,38.0H415.8" stroke="#000" stroke-width="1.8" stroke-dasharray="6.6 6.2"/><path d="M385.0,53.1H415.8" stroke="#000" stroke-width="1" stroke-dasharray="1 3.8"/><path d="M385.0,67.2H415.8" stroke="#000" stroke-width="1" stroke-dasharray="1 3.8"/><circle cx="400.4" cy="53.1" r="1.85" fill="#fff" stroke="#000" stroke-width="1.3"/><rect x="398.84999999999997" y="65.65" width="3.1" height="3.1" fill="#fff" stroke="#000" stroke-width="1.35"/><path d="M385.0,82.2H415.8" stroke="#000" stroke-width="1.8" stroke-dasharray="0.9 4.2 6.8 3.8"/><text x="419.3" y="26.8" class="lg">Model i=30<tspan class="sup" dx="-0.5" dy="-5.2">o</tspan></text><text x="419.3" y="43.1" class="lg">Model i=20<tspan class="sup" dx="-0.5" dy="-5.2">o</tspan></text><text x="419.3" y="57.3" class="lg">Obs <tspan class="one">1</tspan>9 Apr 2006</text><text x="419.3" y="71.1" class="lg">Obs 22 May 2006</text><text x="419.3" y="86.8" class="lg">Hole Model i=20<tspan class="sup" dx="-0.5" dy="-5.2">o</tspan></text><path transform="translate(222.656,391.300) scale(0.01050,-0.01050)" d="M238 489H68V582Q252 582 285 709H378V0H238Z" fill="#000" stroke="#000" stroke-width="23.81"/><path transform="translate(316.834,391.300) scale(0.01050,-0.01050)" d="M238 489H68V582Q252 582 285 709H378V0H238Z" fill="#000" stroke="#000" stroke-width="23.81"/><path transform="translate(34.928,368.200) scale(0.01020,-0.01020)" d="M238 489H68V582Q252 582 285 709H378V0H238Z" fill="#000" stroke="#000" stroke-width="24.51"/><path transform="translate(26.428,333.820) scale(0.01020,-0.01020)" d="M238 489H68V582Q252 582 285 709H378V0H238Z" fill="#000" stroke="#000" stroke-width="24.51"/><path transform="translate(442.847,57.300) scale(0.01060,-0.01060)" d="M238 489H68V582Q252 582 285 709H378V0H238Z" fill="#000" stroke="#000" stroke-width="23.58"/>
</svg></body></html>
